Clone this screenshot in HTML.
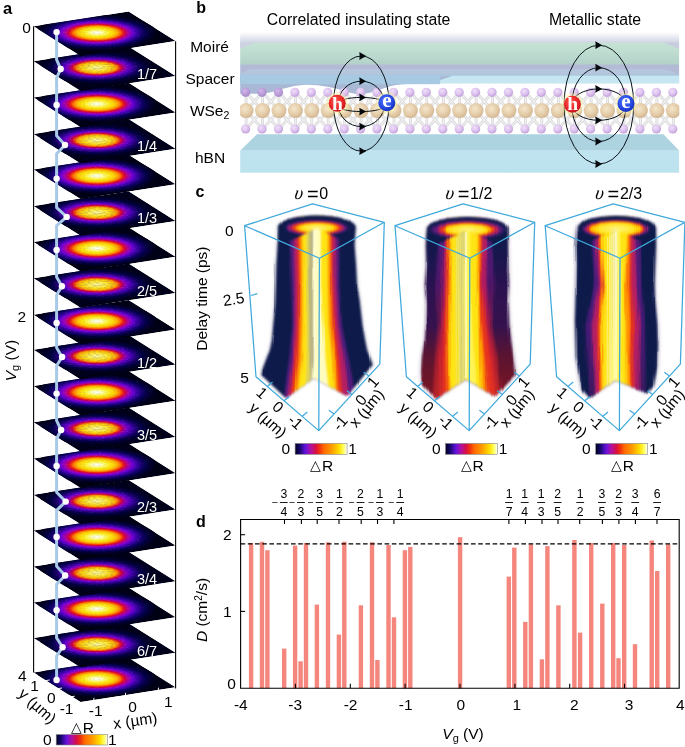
<!DOCTYPE html>
<html><head><meta charset="utf-8"><title>figure</title>
<style>html,body{margin:0;padding:0;background:#fff}svg{display:block}</style></head>
<body>
<svg width="685" height="747" viewBox="0 0 685 747">
<defs>
<linearGradient id="cb" x1="0" x2="1" y1="0" y2="0"><stop offset="0.000" stop-color="#03031e"/><stop offset="0.080" stop-color="#100664"/><stop offset="0.200" stop-color="#6412dc"/><stop offset="0.300" stop-color="#b010a0"/><stop offset="0.400" stop-color="#d81040"/><stop offset="0.470" stop-color="#f03010"/><stop offset="0.550" stop-color="#ff6800"/><stop offset="0.700" stop-color="#ff9a00"/><stop offset="0.850" stop-color="#ffe000"/><stop offset="0.930" stop-color="#ffff60"/><stop offset="1.000" stop-color="#ffffff"/></linearGradient>
<radialGradient id="bg0" cx="0.5" cy="0.5" r="0.5"><stop offset="0.00" stop-color="#ffffff"/><stop offset="0.09" stop-color="#ffffb0"/><stop offset="0.19" stop-color="#fff430"/><stop offset="0.29" stop-color="#ffd800"/><stop offset="0.35" stop-color="#ffa800"/><stop offset="0.40" stop-color="#ff6a00"/><stop offset="0.43" stop-color="#f03010"/><stop offset="0.47" stop-color="#d81040"/><stop offset="0.52" stop-color="#b010a0"/><stop offset="0.59" stop-color="#7a10d8"/><stop offset="0.66" stop-color="#4209b0"/><stop offset="0.76" stop-color="#18066a"/><stop offset="0.87" stop-color="#090436"/><stop offset="1.00" stop-color="#030216"/></radialGradient>
<radialGradient id="bg1" cx="0.5" cy="0.5" r="0.5"><stop offset="0.00" stop-color="#fffbb0"/><stop offset="0.10" stop-color="#fff468"/><stop offset="0.20" stop-color="#ffe630"/><stop offset="0.29" stop-color="#ffc800"/><stop offset="0.35" stop-color="#ff9400"/><stop offset="0.39" stop-color="#f44a10"/><stop offset="0.43" stop-color="#d81040"/><stop offset="0.48" stop-color="#a810a0"/><stop offset="0.55" stop-color="#7010d4"/><stop offset="0.63" stop-color="#3c0aa4"/><stop offset="0.74" stop-color="#16065c"/><stop offset="0.86" stop-color="#080430"/><stop offset="1.00" stop-color="#030216"/></radialGradient>
<filter id="nz1" x="0" y="0" width="100%" height="100%"><feTurbulence type="fractalNoise" baseFrequency="0.35 0.95" numOctaves="1" seed="3" result="t"/><feColorMatrix in="t" type="matrix" values="0 0 0 0 0  0 0 0 0 0  0 0 0 0 0.05  0.9 0 0 0 -0.33" result="a"/><feComposite in="a" in2="SourceGraphic" operator="in" result="m"/><feMerge><feMergeNode in="SourceGraphic"/><feMergeNode in="m"/></feMerge></filter>
<filter id="nz0" x="0" y="0" width="100%" height="100%"><feTurbulence type="fractalNoise" baseFrequency="0.5 0.95" numOctaves="1" seed="5" result="t"/><feColorMatrix in="t" type="matrix" values="0 0 0 0 0  0 0 0 0 0  0 0 0 0 0.05  0.5 0 0 0 -0.2" result="a"/><feComposite in="a" in2="SourceGraphic" operator="in" result="m"/><feMerge><feMergeNode in="SourceGraphic"/><feMergeNode in="m"/></feMerge></filter>
<clipPath id="pc"><polygon points="0,0 95.00,-14.80 142.00,14.80 47.00,29.60"/></clipPath>
<linearGradient id="b_top" x1="0" x2="0" y1="0" y2="1"><stop offset="0" stop-color="#ffffff"/><stop offset="1" stop-color="#cfd2e4"/></linearGradient>
<linearGradient id="b_green" x1="0" x2="0" y1="0" y2="1"><stop offset="0" stop-color="#c6e3d5"/><stop offset="0.35" stop-color="#c0dfd1"/><stop offset="1" stop-color="#b2d0c8"/></linearGradient>
<linearGradient id="b_hbn" x1="0" x2="0" y1="0" y2="1"><stop offset="0" stop-color="#bfe4f0"/><stop offset="1" stop-color="#bce2ee"/></linearGradient>
<radialGradient id="gW" cx="0.42" cy="0.38" r="0.65"><stop offset="0" stop-color="#f4e6cc"/><stop offset="0.6" stop-color="#e4cca8"/><stop offset="1" stop-color="#d0b490"/></radialGradient>
<radialGradient id="gSe" cx="0.4" cy="0.35" r="0.65"><stop offset="0" stop-color="#f0e0fa"/><stop offset="0.6" stop-color="#dcc0ee"/><stop offset="1" stop-color="#c0a0d8"/></radialGradient>
<radialGradient id="gSe2" cx="0.4" cy="0.35" r="0.65"><stop offset="0" stop-color="#d2b8ea"/><stop offset="0.6" stop-color="#b99cd8"/><stop offset="1" stop-color="#a78cc8"/></radialGradient>
<radialGradient id="gH" cx="0.42" cy="0.38" r="0.62"><stop offset="0" stop-color="#ff5a50"/><stop offset="0.6" stop-color="#ec2a2a"/><stop offset="1" stop-color="#c81420"/></radialGradient>
<radialGradient id="gE" cx="0.42" cy="0.38" r="0.62"><stop offset="0" stop-color="#5a7cff"/><stop offset="0.6" stop-color="#2a4ee8"/><stop offset="1" stop-color="#1630c0"/></radialGradient>
<radialGradient id="gGlow" cx="0.5" cy="0.5" r="0.5"><stop offset="0" stop-color="#fff6b0" stop-opacity="0.9"/><stop offset="0.7" stop-color="#fff6b0" stop-opacity="0.6"/><stop offset="1" stop-color="#fff6b0" stop-opacity="0"/></radialGradient>
<filter id="bl1" x="-5%" y="-20%" width="110%" height="140%"><feGaussianBlur stdDeviation="0.7"/></filter>
<clipPath id="b_clip"><rect x="240.1" y="30" width="439.2" height="142.7"/></clipPath>
<filter id="c_bl0" x="-10%" y="-5%" width="120%" height="110%" color-interpolation-filters="sRGB"><feGaussianBlur stdDeviation="1.25 1.0" result="b"/><feTurbulence type="fractalNoise" baseFrequency="0.33 0.012" numOctaves="2" seed="7" result="n0"/><feColorMatrix in="n0" type="matrix" values="1 0 0 0 0  0 0.3 0 0 0.35  0 0 1 0 0  0 0 0 0 1" result="n"/><feDisplacementMap in="b" in2="n" scale="2.6" xChannelSelector="R" yChannelSelector="G" result="d"/><feGaussianBlur in="d" stdDeviation="0.45"/></filter>
<filter id="c_bl1" x="-10%" y="-5%" width="120%" height="110%" color-interpolation-filters="sRGB"><feGaussianBlur stdDeviation="1.25 1.0" result="b"/><feTurbulence type="fractalNoise" baseFrequency="0.33 0.012" numOctaves="2" seed="11" result="n0"/><feColorMatrix in="n0" type="matrix" values="1 0 0 0 0  0 0.3 0 0 0.35  0 0 1 0 0  0 0 0 0 1" result="n"/><feDisplacementMap in="b" in2="n" scale="4.6" xChannelSelector="R" yChannelSelector="G" result="d"/><feGaussianBlur in="d" stdDeviation="0.45"/></filter>
<filter id="c_bl2x" x="-10%" y="-5%" width="120%" height="110%" color-interpolation-filters="sRGB"><feGaussianBlur stdDeviation="1.25 1.0" result="b"/><feTurbulence type="fractalNoise" baseFrequency="0.33 0.012" numOctaves="2" seed="23" result="n0"/><feColorMatrix in="n0" type="matrix" values="1 0 0 0 0  0 0.3 0 0 0.35  0 0 1 0 0  0 0 0 0 1" result="n"/><feDisplacementMap in="b" in2="n" scale="4.2" xChannelSelector="R" yChannelSelector="G" result="d"/><feGaussianBlur in="d" stdDeviation="0.45"/></filter>
<filter id="c_halo" x="-15%" y="-10%" width="130%" height="120%"><feGaussianBlur stdDeviation="2.2 1.6"/></filter>
<filter id="c_bl2" x="-10%" y="-20%" width="120%" height="140%"><feGaussianBlur stdDeviation="1.0"/></filter>
<linearGradient id="c_gy0" gradientUnits="userSpaceOnUse" x1="306" x2="314" y1="0" y2="0"><stop offset="0" stop-color="#f2e040"/><stop offset="0.35" stop-color="#d4cb62"/><stop offset="0.62" stop-color="#b6af84"/><stop offset="1" stop-color="#a49e8e"/></linearGradient>
<linearGradient id="c_gy1" gradientUnits="userSpaceOnUse" x1="456" x2="465.5" y1="0" y2="0"><stop offset="0" stop-color="#f2e240"/><stop offset="0.6" stop-color="#ddd366"/><stop offset="1" stop-color="#c2ba84"/></linearGradient>
<linearGradient id="c_gy2" gradientUnits="userSpaceOnUse" x1="608" x2="615" y1="0" y2="0"><stop offset="0" stop-color="#fbe834"/><stop offset="0.6" stop-color="#f6ec70"/><stop offset="1" stop-color="#ece59c"/></linearGradient>
<linearGradient id="c_n2" gradientUnits="userSpaceOnUse" x1="0" x2="0" y1="230" y2="395"><stop offset="0" stop-color="#0e1a4a"/><stop offset="0.18" stop-color="#1a164e"/><stop offset="0.33" stop-color="#2a1250"/><stop offset="0.58" stop-color="#36124e"/><stop offset="0.77" stop-color="#5c1430"/><stop offset="1" stop-color="#7a1424"/></linearGradient>
<linearGradient id="c_p2" gradientUnits="userSpaceOnUse" x1="0" x2="0" y1="230" y2="395"><stop offset="0" stop-color="#521c7c"/><stop offset="0.33" stop-color="#4e1668"/><stop offset="0.58" stop-color="#701848"/><stop offset="0.77" stop-color="#a01c30"/><stop offset="1" stop-color="#b42428"/></linearGradient>
<linearGradient id="c_m2" gradientUnits="userSpaceOnUse" x1="0" x2="0" y1="230" y2="395"><stop offset="0" stop-color="#b41e64"/><stop offset="0.33" stop-color="#b01a62"/><stop offset="0.58" stop-color="#b01a48"/><stop offset="0.77" stop-color="#c82030"/><stop offset="1" stop-color="#d02c28"/></linearGradient>
<linearGradient id="c_p3" gradientUnits="userSpaceOnUse" x1="0" x2="0" y1="230" y2="395"><stop offset="0" stop-color="#521c7c"/><stop offset="0.6" stop-color="#4a1a78"/><stop offset="1" stop-color="#3c1a60"/></linearGradient>
<radialGradient id="c_cap" cx="0.5" cy="0.5" r="0.5"><stop offset="0.000" stop-color="#fff48a"/><stop offset="0.247" stop-color="#ffe626"/><stop offset="0.320" stop-color="#ffc800"/><stop offset="0.364" stop-color="#ff9200"/><stop offset="0.415" stop-color="#e6321e"/><stop offset="0.469" stop-color="#b41e64"/><stop offset="0.524" stop-color="#521c7c"/><stop offset="0.582" stop-color="#0e1a4a"/><stop offset="1.000" stop-color="#0e1a4a"/></radialGradient>
<radialGradient id="c_cap1" cx="0.5" cy="0.5" r="0.5"><stop offset="0.000" stop-color="#fff48a"/><stop offset="0.291" stop-color="#ffe626"/><stop offset="0.364" stop-color="#ffc800"/><stop offset="0.407" stop-color="#ff9200"/><stop offset="0.451" stop-color="#e6321e"/><stop offset="0.509" stop-color="#b41e64"/><stop offset="0.582" stop-color="#521c7c"/><stop offset="0.676" stop-color="#0e1a4a"/><stop offset="1.000" stop-color="#0e1a4a"/></radialGradient>
<radialGradient id="c_cap2" cx="0.5" cy="0.5" r="0.5"><stop offset="0.000" stop-color="#fff48a"/><stop offset="0.327" stop-color="#ffe626"/><stop offset="0.422" stop-color="#ffc800"/><stop offset="0.465" stop-color="#ff9200"/><stop offset="0.502" stop-color="#e6321e"/><stop offset="0.538" stop-color="#b41e64"/><stop offset="0.575" stop-color="#521c7c"/><stop offset="0.625" stop-color="#0e1a4a"/><stop offset="1.000" stop-color="#0e1a4a"/></radialGradient>
<clipPath id="c_body0"><path d="M278.0,227.0 L277.6,245.0 L276.4,265.0 L275.9,285.0 L275.2,305.0 L273.3,325.0 L272.0,340.0 L270.0,350.0 L266.4,359.0 L263.0,368.0 L261.5,375.0 L286.0,398.0 L313.8,378.0 L347.0,396.0 L372.6,364.7 L370.5,359.0 L367.0,350.0 L365.0,340.0 L362.4,325.0 L359.5,300.0 L357.0,285.0 L356.0,265.0 L354.5,245.0 L355.5,227.0 A38.8,12.0 0 0 0 278.0,227.0 Z"/></clipPath>
<clipPath id="c_capc0"><polygon points="196.3,150 446.3,150 446.3,288.0 316.3,228.2 196.3,287.0"/></clipPath>
<clipPath id="c_body1"><path d="M427.0,229.0 L425.9,245.0 L426.5,265.0 L425.0,285.0 L426.5,305.0 L426.0,325.0 L425.0,340.0 L422.0,357.0 L421.0,372.0 L422.0,384.0 L436.4,399.0 L465.7,379.3 L495.0,396.4 L516.0,374.5 L514.0,360.0 L511.0,340.0 L509.3,325.0 L508.0,300.0 L508.9,285.0 L508.0,245.0 L508.0,229.0 A40.5,12.0 0 0 0 427.0,229.0 Z"/></clipPath>
<clipPath id="c_capc1"><polygon points="346.5,150 596.5,150 596.5,289.8 466.5,230.0 346.5,288.8"/></clipPath>
<clipPath id="c_body2"><path d="M577.0,228.0 L575.9,245.0 L576.5,265.0 L576.0,285.0 L575.5,305.0 L575.0,320.0 L575.6,340.0 L576.0,357.0 L579.0,375.0 L581.6,389.7 L589.2,398.0 L615.7,380.2 L647.0,393.5 L653.6,386.0 L657.4,367.0 L658.0,345.0 L657.4,325.0 L655.0,300.0 L654.5,285.0 L655.2,265.0 L656.0,245.0 L655.5,228.0 A39.2,12.0 0 0 0 577.0,228.0 Z"/></clipPath>
<clipPath id="c_capc2"><polygon points="495.0,150 745.0,150 745.0,289.0 615.0,229.2 495.0,288.0"/></clipPath>
</defs>
<rect width="685" height="747" fill="#fff"/>
<g clip-path="url(#b_clip)">
<rect x="240.1" y="32" width="439.2" height="11" fill="url(#b_top)"/>
<rect x="240.1" y="42.4" width="439.2" height="22.6" fill="url(#b_green)"/>
<polygon points="240.1,42.4 255,42.4 240.1,49" fill="#cfd2e4"/>
<polygon points="663.5,42.4 679.3,42.4 679.3,64.7 679.3,64.7 679.3,49" fill="#c9cce0"/>
<rect x="240.1" y="64.6" width="439.2" height="10.6" fill="#b2bad5"/>
<polygon points="250,69 665.3,69 679.3,74.6 240.1,74.6" fill="#b5c5db"/>
<rect x="240.1" y="74.6" width="439.2" height="9.6" fill="#a7c9e1"/>
<polygon points="452,75.8 679.3,75.8 679.3,83.6 425,83.6 440,80" fill="#c6e6f1"/>
<rect x="240.1" y="83.4" width="439.2" height="51" fill="#ffffff"/>
<polygon points="257,134.3 663.5,134.3 679.3,150.8 240.1,150.8" fill="#add3e1"/>
<rect x="240.1" y="150.6" width="439.2" height="23" fill="url(#b_hbn)"/>
<polygon points="664,134.3 679.3,150 679.3,172.7 679.3,172.7" fill="#bfe4f0" opacity="0"/>
<path d="M240.1,83 L240.1,93.8 C258,94 266,93.6 274,91.5 C285,88 295,85 307,84.7 C320,84.6 335,88 345,91 C352,93.5 356,94.3 361,94 C375,93 385,86 400,84.4 C415,83.4 430,84 440,80 L452,76 L240.1,76 Z" fill="#a9b9d5"/>
<rect x="240.1" y="74.6" width="200" height="9.6" fill="#a7c9e1"/>
<g stroke="#d4d4d6" stroke-width="2.8" stroke-linecap="round">
<line x1="246.1" y1="92.3" x2="246.1" y2="110.6"/>
<line x1="246.1" y1="92.3" x2="262.5" y2="110.6"/>
<line x1="246.1" y1="129.0" x2="246.1" y2="110.6"/>
<line x1="246.1" y1="129.0" x2="262.5" y2="110.6"/>
<line x1="262.5" y1="92.3" x2="262.5" y2="110.6"/>
<line x1="262.5" y1="92.3" x2="246.1" y2="110.6"/>
<line x1="262.5" y1="92.3" x2="279.0" y2="110.6"/>
<line x1="262.5" y1="129.0" x2="262.5" y2="110.6"/>
<line x1="262.5" y1="129.0" x2="246.1" y2="110.6"/>
<line x1="262.5" y1="129.0" x2="279.0" y2="110.6"/>
<line x1="279.0" y1="92.3" x2="279.0" y2="110.6"/>
<line x1="279.0" y1="92.3" x2="262.5" y2="110.6"/>
<line x1="279.0" y1="92.3" x2="295.4" y2="110.6"/>
<line x1="279.0" y1="129.0" x2="279.0" y2="110.6"/>
<line x1="279.0" y1="129.0" x2="262.5" y2="110.6"/>
<line x1="279.0" y1="129.0" x2="295.4" y2="110.6"/>
<line x1="295.4" y1="92.3" x2="295.4" y2="110.6"/>
<line x1="295.4" y1="92.3" x2="279.0" y2="110.6"/>
<line x1="295.4" y1="92.3" x2="311.8" y2="110.6"/>
<line x1="295.4" y1="129.0" x2="295.4" y2="110.6"/>
<line x1="295.4" y1="129.0" x2="279.0" y2="110.6"/>
<line x1="295.4" y1="129.0" x2="311.8" y2="110.6"/>
<line x1="311.8" y1="92.3" x2="311.8" y2="110.6"/>
<line x1="311.8" y1="92.3" x2="295.4" y2="110.6"/>
<line x1="311.8" y1="92.3" x2="328.2" y2="110.6"/>
<line x1="311.8" y1="129.0" x2="311.8" y2="110.6"/>
<line x1="311.8" y1="129.0" x2="295.4" y2="110.6"/>
<line x1="311.8" y1="129.0" x2="328.2" y2="110.6"/>
<line x1="328.2" y1="92.3" x2="328.2" y2="110.6"/>
<line x1="328.2" y1="92.3" x2="311.8" y2="110.6"/>
<line x1="328.2" y1="92.3" x2="344.7" y2="110.6"/>
<line x1="328.2" y1="129.0" x2="328.2" y2="110.6"/>
<line x1="328.2" y1="129.0" x2="311.8" y2="110.6"/>
<line x1="328.2" y1="129.0" x2="344.7" y2="110.6"/>
<line x1="344.7" y1="92.3" x2="344.7" y2="110.6"/>
<line x1="344.7" y1="92.3" x2="328.2" y2="110.6"/>
<line x1="344.7" y1="92.3" x2="361.1" y2="110.6"/>
<line x1="344.7" y1="129.0" x2="344.7" y2="110.6"/>
<line x1="344.7" y1="129.0" x2="328.2" y2="110.6"/>
<line x1="344.7" y1="129.0" x2="361.1" y2="110.6"/>
<line x1="361.1" y1="92.3" x2="361.1" y2="110.6"/>
<line x1="361.1" y1="92.3" x2="344.7" y2="110.6"/>
<line x1="361.1" y1="92.3" x2="377.5" y2="110.6"/>
<line x1="361.1" y1="129.0" x2="361.1" y2="110.6"/>
<line x1="361.1" y1="129.0" x2="344.7" y2="110.6"/>
<line x1="361.1" y1="129.0" x2="377.5" y2="110.6"/>
<line x1="377.5" y1="92.3" x2="377.5" y2="110.6"/>
<line x1="377.5" y1="92.3" x2="361.1" y2="110.6"/>
<line x1="377.5" y1="92.3" x2="394.0" y2="110.6"/>
<line x1="377.5" y1="129.0" x2="377.5" y2="110.6"/>
<line x1="377.5" y1="129.0" x2="361.1" y2="110.6"/>
<line x1="377.5" y1="129.0" x2="394.0" y2="110.6"/>
<line x1="394.0" y1="92.3" x2="394.0" y2="110.6"/>
<line x1="394.0" y1="92.3" x2="377.5" y2="110.6"/>
<line x1="394.0" y1="92.3" x2="410.4" y2="110.6"/>
<line x1="394.0" y1="129.0" x2="394.0" y2="110.6"/>
<line x1="394.0" y1="129.0" x2="377.5" y2="110.6"/>
<line x1="394.0" y1="129.0" x2="410.4" y2="110.6"/>
<line x1="410.4" y1="92.3" x2="410.4" y2="110.6"/>
<line x1="410.4" y1="92.3" x2="394.0" y2="110.6"/>
<line x1="410.4" y1="92.3" x2="426.8" y2="110.6"/>
<line x1="410.4" y1="129.0" x2="410.4" y2="110.6"/>
<line x1="410.4" y1="129.0" x2="394.0" y2="110.6"/>
<line x1="410.4" y1="129.0" x2="426.8" y2="110.6"/>
<line x1="426.8" y1="92.3" x2="426.8" y2="110.6"/>
<line x1="426.8" y1="92.3" x2="410.4" y2="110.6"/>
<line x1="426.8" y1="92.3" x2="443.3" y2="110.6"/>
<line x1="426.8" y1="129.0" x2="426.8" y2="110.6"/>
<line x1="426.8" y1="129.0" x2="410.4" y2="110.6"/>
<line x1="426.8" y1="129.0" x2="443.3" y2="110.6"/>
<line x1="443.3" y1="92.3" x2="443.3" y2="110.6"/>
<line x1="443.3" y1="92.3" x2="426.8" y2="110.6"/>
<line x1="443.3" y1="92.3" x2="459.7" y2="110.6"/>
<line x1="443.3" y1="129.0" x2="443.3" y2="110.6"/>
<line x1="443.3" y1="129.0" x2="426.8" y2="110.6"/>
<line x1="443.3" y1="129.0" x2="459.7" y2="110.6"/>
<line x1="459.7" y1="92.3" x2="459.7" y2="110.6"/>
<line x1="459.7" y1="92.3" x2="443.3" y2="110.6"/>
<line x1="459.7" y1="92.3" x2="476.1" y2="110.6"/>
<line x1="459.7" y1="129.0" x2="459.7" y2="110.6"/>
<line x1="459.7" y1="129.0" x2="443.3" y2="110.6"/>
<line x1="459.7" y1="129.0" x2="476.1" y2="110.6"/>
<line x1="476.1" y1="92.3" x2="476.1" y2="110.6"/>
<line x1="476.1" y1="92.3" x2="459.7" y2="110.6"/>
<line x1="476.1" y1="92.3" x2="492.5" y2="110.6"/>
<line x1="476.1" y1="129.0" x2="476.1" y2="110.6"/>
<line x1="476.1" y1="129.0" x2="459.7" y2="110.6"/>
<line x1="476.1" y1="129.0" x2="492.5" y2="110.6"/>
<line x1="492.5" y1="92.3" x2="492.5" y2="110.6"/>
<line x1="492.5" y1="92.3" x2="476.1" y2="110.6"/>
<line x1="492.5" y1="92.3" x2="509.0" y2="110.6"/>
<line x1="492.5" y1="129.0" x2="492.5" y2="110.6"/>
<line x1="492.5" y1="129.0" x2="476.1" y2="110.6"/>
<line x1="492.5" y1="129.0" x2="509.0" y2="110.6"/>
<line x1="509.0" y1="92.3" x2="509.0" y2="110.6"/>
<line x1="509.0" y1="92.3" x2="492.5" y2="110.6"/>
<line x1="509.0" y1="92.3" x2="525.4" y2="110.6"/>
<line x1="509.0" y1="129.0" x2="509.0" y2="110.6"/>
<line x1="509.0" y1="129.0" x2="492.5" y2="110.6"/>
<line x1="509.0" y1="129.0" x2="525.4" y2="110.6"/>
<line x1="525.4" y1="92.3" x2="525.4" y2="110.6"/>
<line x1="525.4" y1="92.3" x2="509.0" y2="110.6"/>
<line x1="525.4" y1="92.3" x2="541.8" y2="110.6"/>
<line x1="525.4" y1="129.0" x2="525.4" y2="110.6"/>
<line x1="525.4" y1="129.0" x2="509.0" y2="110.6"/>
<line x1="525.4" y1="129.0" x2="541.8" y2="110.6"/>
<line x1="541.8" y1="92.3" x2="541.8" y2="110.6"/>
<line x1="541.8" y1="92.3" x2="525.4" y2="110.6"/>
<line x1="541.8" y1="92.3" x2="558.3" y2="110.6"/>
<line x1="541.8" y1="129.0" x2="541.8" y2="110.6"/>
<line x1="541.8" y1="129.0" x2="525.4" y2="110.6"/>
<line x1="541.8" y1="129.0" x2="558.3" y2="110.6"/>
<line x1="558.3" y1="92.3" x2="558.3" y2="110.6"/>
<line x1="558.3" y1="92.3" x2="541.8" y2="110.6"/>
<line x1="558.3" y1="92.3" x2="574.7" y2="110.6"/>
<line x1="558.3" y1="129.0" x2="558.3" y2="110.6"/>
<line x1="558.3" y1="129.0" x2="541.8" y2="110.6"/>
<line x1="558.3" y1="129.0" x2="574.7" y2="110.6"/>
<line x1="574.7" y1="92.3" x2="574.7" y2="110.6"/>
<line x1="574.7" y1="92.3" x2="558.3" y2="110.6"/>
<line x1="574.7" y1="92.3" x2="591.1" y2="110.6"/>
<line x1="574.7" y1="129.0" x2="574.7" y2="110.6"/>
<line x1="574.7" y1="129.0" x2="558.3" y2="110.6"/>
<line x1="574.7" y1="129.0" x2="591.1" y2="110.6"/>
<line x1="591.1" y1="92.3" x2="591.1" y2="110.6"/>
<line x1="591.1" y1="92.3" x2="574.7" y2="110.6"/>
<line x1="591.1" y1="92.3" x2="607.6" y2="110.6"/>
<line x1="591.1" y1="129.0" x2="591.1" y2="110.6"/>
<line x1="591.1" y1="129.0" x2="574.7" y2="110.6"/>
<line x1="591.1" y1="129.0" x2="607.6" y2="110.6"/>
<line x1="607.6" y1="92.3" x2="607.6" y2="110.6"/>
<line x1="607.6" y1="92.3" x2="591.1" y2="110.6"/>
<line x1="607.6" y1="92.3" x2="624.0" y2="110.6"/>
<line x1="607.6" y1="129.0" x2="607.6" y2="110.6"/>
<line x1="607.6" y1="129.0" x2="591.1" y2="110.6"/>
<line x1="607.6" y1="129.0" x2="624.0" y2="110.6"/>
<line x1="624.0" y1="92.3" x2="624.0" y2="110.6"/>
<line x1="624.0" y1="92.3" x2="607.6" y2="110.6"/>
<line x1="624.0" y1="92.3" x2="640.4" y2="110.6"/>
<line x1="624.0" y1="129.0" x2="624.0" y2="110.6"/>
<line x1="624.0" y1="129.0" x2="607.6" y2="110.6"/>
<line x1="624.0" y1="129.0" x2="640.4" y2="110.6"/>
<line x1="640.4" y1="92.3" x2="640.4" y2="110.6"/>
<line x1="640.4" y1="92.3" x2="624.0" y2="110.6"/>
<line x1="640.4" y1="92.3" x2="656.9" y2="110.6"/>
<line x1="640.4" y1="129.0" x2="640.4" y2="110.6"/>
<line x1="640.4" y1="129.0" x2="624.0" y2="110.6"/>
<line x1="640.4" y1="129.0" x2="656.9" y2="110.6"/>
<line x1="656.9" y1="92.3" x2="656.9" y2="110.6"/>
<line x1="656.9" y1="92.3" x2="640.4" y2="110.6"/>
<line x1="656.9" y1="92.3" x2="673.3" y2="110.6"/>
<line x1="656.9" y1="129.0" x2="656.9" y2="110.6"/>
<line x1="656.9" y1="129.0" x2="640.4" y2="110.6"/>
<line x1="656.9" y1="129.0" x2="673.3" y2="110.6"/>
<line x1="673.3" y1="92.3" x2="673.3" y2="110.6"/>
<line x1="673.3" y1="92.3" x2="656.9" y2="110.6"/>
<line x1="673.3" y1="129.0" x2="673.3" y2="110.6"/>
<line x1="673.3" y1="129.0" x2="656.9" y2="110.6"/>
</g><g stroke="#f0f0f1" stroke-width="1.4" stroke-linecap="round">
<line x1="246.1" y1="92.3" x2="246.1" y2="110.6"/>
<line x1="246.1" y1="92.3" x2="262.5" y2="110.6"/>
<line x1="246.1" y1="129.0" x2="246.1" y2="110.6"/>
<line x1="246.1" y1="129.0" x2="262.5" y2="110.6"/>
<line x1="262.5" y1="92.3" x2="262.5" y2="110.6"/>
<line x1="262.5" y1="92.3" x2="246.1" y2="110.6"/>
<line x1="262.5" y1="92.3" x2="279.0" y2="110.6"/>
<line x1="262.5" y1="129.0" x2="262.5" y2="110.6"/>
<line x1="262.5" y1="129.0" x2="246.1" y2="110.6"/>
<line x1="262.5" y1="129.0" x2="279.0" y2="110.6"/>
<line x1="279.0" y1="92.3" x2="279.0" y2="110.6"/>
<line x1="279.0" y1="92.3" x2="262.5" y2="110.6"/>
<line x1="279.0" y1="92.3" x2="295.4" y2="110.6"/>
<line x1="279.0" y1="129.0" x2="279.0" y2="110.6"/>
<line x1="279.0" y1="129.0" x2="262.5" y2="110.6"/>
<line x1="279.0" y1="129.0" x2="295.4" y2="110.6"/>
<line x1="295.4" y1="92.3" x2="295.4" y2="110.6"/>
<line x1="295.4" y1="92.3" x2="279.0" y2="110.6"/>
<line x1="295.4" y1="92.3" x2="311.8" y2="110.6"/>
<line x1="295.4" y1="129.0" x2="295.4" y2="110.6"/>
<line x1="295.4" y1="129.0" x2="279.0" y2="110.6"/>
<line x1="295.4" y1="129.0" x2="311.8" y2="110.6"/>
<line x1="311.8" y1="92.3" x2="311.8" y2="110.6"/>
<line x1="311.8" y1="92.3" x2="295.4" y2="110.6"/>
<line x1="311.8" y1="92.3" x2="328.2" y2="110.6"/>
<line x1="311.8" y1="129.0" x2="311.8" y2="110.6"/>
<line x1="311.8" y1="129.0" x2="295.4" y2="110.6"/>
<line x1="311.8" y1="129.0" x2="328.2" y2="110.6"/>
<line x1="328.2" y1="92.3" x2="328.2" y2="110.6"/>
<line x1="328.2" y1="92.3" x2="311.8" y2="110.6"/>
<line x1="328.2" y1="92.3" x2="344.7" y2="110.6"/>
<line x1="328.2" y1="129.0" x2="328.2" y2="110.6"/>
<line x1="328.2" y1="129.0" x2="311.8" y2="110.6"/>
<line x1="328.2" y1="129.0" x2="344.7" y2="110.6"/>
<line x1="344.7" y1="92.3" x2="344.7" y2="110.6"/>
<line x1="344.7" y1="92.3" x2="328.2" y2="110.6"/>
<line x1="344.7" y1="92.3" x2="361.1" y2="110.6"/>
<line x1="344.7" y1="129.0" x2="344.7" y2="110.6"/>
<line x1="344.7" y1="129.0" x2="328.2" y2="110.6"/>
<line x1="344.7" y1="129.0" x2="361.1" y2="110.6"/>
<line x1="361.1" y1="92.3" x2="361.1" y2="110.6"/>
<line x1="361.1" y1="92.3" x2="344.7" y2="110.6"/>
<line x1="361.1" y1="92.3" x2="377.5" y2="110.6"/>
<line x1="361.1" y1="129.0" x2="361.1" y2="110.6"/>
<line x1="361.1" y1="129.0" x2="344.7" y2="110.6"/>
<line x1="361.1" y1="129.0" x2="377.5" y2="110.6"/>
<line x1="377.5" y1="92.3" x2="377.5" y2="110.6"/>
<line x1="377.5" y1="92.3" x2="361.1" y2="110.6"/>
<line x1="377.5" y1="92.3" x2="394.0" y2="110.6"/>
<line x1="377.5" y1="129.0" x2="377.5" y2="110.6"/>
<line x1="377.5" y1="129.0" x2="361.1" y2="110.6"/>
<line x1="377.5" y1="129.0" x2="394.0" y2="110.6"/>
<line x1="394.0" y1="92.3" x2="394.0" y2="110.6"/>
<line x1="394.0" y1="92.3" x2="377.5" y2="110.6"/>
<line x1="394.0" y1="92.3" x2="410.4" y2="110.6"/>
<line x1="394.0" y1="129.0" x2="394.0" y2="110.6"/>
<line x1="394.0" y1="129.0" x2="377.5" y2="110.6"/>
<line x1="394.0" y1="129.0" x2="410.4" y2="110.6"/>
<line x1="410.4" y1="92.3" x2="410.4" y2="110.6"/>
<line x1="410.4" y1="92.3" x2="394.0" y2="110.6"/>
<line x1="410.4" y1="92.3" x2="426.8" y2="110.6"/>
<line x1="410.4" y1="129.0" x2="410.4" y2="110.6"/>
<line x1="410.4" y1="129.0" x2="394.0" y2="110.6"/>
<line x1="410.4" y1="129.0" x2="426.8" y2="110.6"/>
<line x1="426.8" y1="92.3" x2="426.8" y2="110.6"/>
<line x1="426.8" y1="92.3" x2="410.4" y2="110.6"/>
<line x1="426.8" y1="92.3" x2="443.3" y2="110.6"/>
<line x1="426.8" y1="129.0" x2="426.8" y2="110.6"/>
<line x1="426.8" y1="129.0" x2="410.4" y2="110.6"/>
<line x1="426.8" y1="129.0" x2="443.3" y2="110.6"/>
<line x1="443.3" y1="92.3" x2="443.3" y2="110.6"/>
<line x1="443.3" y1="92.3" x2="426.8" y2="110.6"/>
<line x1="443.3" y1="92.3" x2="459.7" y2="110.6"/>
<line x1="443.3" y1="129.0" x2="443.3" y2="110.6"/>
<line x1="443.3" y1="129.0" x2="426.8" y2="110.6"/>
<line x1="443.3" y1="129.0" x2="459.7" y2="110.6"/>
<line x1="459.7" y1="92.3" x2="459.7" y2="110.6"/>
<line x1="459.7" y1="92.3" x2="443.3" y2="110.6"/>
<line x1="459.7" y1="92.3" x2="476.1" y2="110.6"/>
<line x1="459.7" y1="129.0" x2="459.7" y2="110.6"/>
<line x1="459.7" y1="129.0" x2="443.3" y2="110.6"/>
<line x1="459.7" y1="129.0" x2="476.1" y2="110.6"/>
<line x1="476.1" y1="92.3" x2="476.1" y2="110.6"/>
<line x1="476.1" y1="92.3" x2="459.7" y2="110.6"/>
<line x1="476.1" y1="92.3" x2="492.5" y2="110.6"/>
<line x1="476.1" y1="129.0" x2="476.1" y2="110.6"/>
<line x1="476.1" y1="129.0" x2="459.7" y2="110.6"/>
<line x1="476.1" y1="129.0" x2="492.5" y2="110.6"/>
<line x1="492.5" y1="92.3" x2="492.5" y2="110.6"/>
<line x1="492.5" y1="92.3" x2="476.1" y2="110.6"/>
<line x1="492.5" y1="92.3" x2="509.0" y2="110.6"/>
<line x1="492.5" y1="129.0" x2="492.5" y2="110.6"/>
<line x1="492.5" y1="129.0" x2="476.1" y2="110.6"/>
<line x1="492.5" y1="129.0" x2="509.0" y2="110.6"/>
<line x1="509.0" y1="92.3" x2="509.0" y2="110.6"/>
<line x1="509.0" y1="92.3" x2="492.5" y2="110.6"/>
<line x1="509.0" y1="92.3" x2="525.4" y2="110.6"/>
<line x1="509.0" y1="129.0" x2="509.0" y2="110.6"/>
<line x1="509.0" y1="129.0" x2="492.5" y2="110.6"/>
<line x1="509.0" y1="129.0" x2="525.4" y2="110.6"/>
<line x1="525.4" y1="92.3" x2="525.4" y2="110.6"/>
<line x1="525.4" y1="92.3" x2="509.0" y2="110.6"/>
<line x1="525.4" y1="92.3" x2="541.8" y2="110.6"/>
<line x1="525.4" y1="129.0" x2="525.4" y2="110.6"/>
<line x1="525.4" y1="129.0" x2="509.0" y2="110.6"/>
<line x1="525.4" y1="129.0" x2="541.8" y2="110.6"/>
<line x1="541.8" y1="92.3" x2="541.8" y2="110.6"/>
<line x1="541.8" y1="92.3" x2="525.4" y2="110.6"/>
<line x1="541.8" y1="92.3" x2="558.3" y2="110.6"/>
<line x1="541.8" y1="129.0" x2="541.8" y2="110.6"/>
<line x1="541.8" y1="129.0" x2="525.4" y2="110.6"/>
<line x1="541.8" y1="129.0" x2="558.3" y2="110.6"/>
<line x1="558.3" y1="92.3" x2="558.3" y2="110.6"/>
<line x1="558.3" y1="92.3" x2="541.8" y2="110.6"/>
<line x1="558.3" y1="92.3" x2="574.7" y2="110.6"/>
<line x1="558.3" y1="129.0" x2="558.3" y2="110.6"/>
<line x1="558.3" y1="129.0" x2="541.8" y2="110.6"/>
<line x1="558.3" y1="129.0" x2="574.7" y2="110.6"/>
<line x1="574.7" y1="92.3" x2="574.7" y2="110.6"/>
<line x1="574.7" y1="92.3" x2="558.3" y2="110.6"/>
<line x1="574.7" y1="92.3" x2="591.1" y2="110.6"/>
<line x1="574.7" y1="129.0" x2="574.7" y2="110.6"/>
<line x1="574.7" y1="129.0" x2="558.3" y2="110.6"/>
<line x1="574.7" y1="129.0" x2="591.1" y2="110.6"/>
<line x1="591.1" y1="92.3" x2="591.1" y2="110.6"/>
<line x1="591.1" y1="92.3" x2="574.7" y2="110.6"/>
<line x1="591.1" y1="92.3" x2="607.6" y2="110.6"/>
<line x1="591.1" y1="129.0" x2="591.1" y2="110.6"/>
<line x1="591.1" y1="129.0" x2="574.7" y2="110.6"/>
<line x1="591.1" y1="129.0" x2="607.6" y2="110.6"/>
<line x1="607.6" y1="92.3" x2="607.6" y2="110.6"/>
<line x1="607.6" y1="92.3" x2="591.1" y2="110.6"/>
<line x1="607.6" y1="92.3" x2="624.0" y2="110.6"/>
<line x1="607.6" y1="129.0" x2="607.6" y2="110.6"/>
<line x1="607.6" y1="129.0" x2="591.1" y2="110.6"/>
<line x1="607.6" y1="129.0" x2="624.0" y2="110.6"/>
<line x1="624.0" y1="92.3" x2="624.0" y2="110.6"/>
<line x1="624.0" y1="92.3" x2="607.6" y2="110.6"/>
<line x1="624.0" y1="92.3" x2="640.4" y2="110.6"/>
<line x1="624.0" y1="129.0" x2="624.0" y2="110.6"/>
<line x1="624.0" y1="129.0" x2="607.6" y2="110.6"/>
<line x1="624.0" y1="129.0" x2="640.4" y2="110.6"/>
<line x1="640.4" y1="92.3" x2="640.4" y2="110.6"/>
<line x1="640.4" y1="92.3" x2="624.0" y2="110.6"/>
<line x1="640.4" y1="92.3" x2="656.9" y2="110.6"/>
<line x1="640.4" y1="129.0" x2="640.4" y2="110.6"/>
<line x1="640.4" y1="129.0" x2="624.0" y2="110.6"/>
<line x1="640.4" y1="129.0" x2="656.9" y2="110.6"/>
<line x1="656.9" y1="92.3" x2="656.9" y2="110.6"/>
<line x1="656.9" y1="92.3" x2="640.4" y2="110.6"/>
<line x1="656.9" y1="92.3" x2="673.3" y2="110.6"/>
<line x1="656.9" y1="129.0" x2="656.9" y2="110.6"/>
<line x1="656.9" y1="129.0" x2="640.4" y2="110.6"/>
<line x1="656.9" y1="129.0" x2="673.3" y2="110.6"/>
<line x1="673.3" y1="92.3" x2="673.3" y2="110.6"/>
<line x1="673.3" y1="92.3" x2="656.9" y2="110.6"/>
<line x1="673.3" y1="129.0" x2="673.3" y2="110.6"/>
<line x1="673.3" y1="129.0" x2="656.9" y2="110.6"/>
</g>
<circle cx="245.6" cy="92.3" r="4.6" fill="url(#gSe2)"/>
<circle cx="245.6" cy="129.0" r="4.6" fill="url(#gSe)"/>
<circle cx="262.0" cy="92.3" r="4.6" fill="url(#gSe2)"/>
<circle cx="262.0" cy="129.0" r="4.6" fill="url(#gSe)"/>
<circle cx="278.5" cy="92.3" r="4.6" fill="url(#gSe2)"/>
<circle cx="278.5" cy="129.0" r="4.6" fill="url(#gSe)"/>
<circle cx="294.9" cy="92.3" r="4.6" fill="url(#gSe)"/>
<circle cx="294.9" cy="129.0" r="4.6" fill="url(#gSe)"/>
<circle cx="311.3" cy="92.3" r="4.6" fill="url(#gSe)"/>
<circle cx="311.3" cy="129.0" r="4.6" fill="url(#gSe)"/>
<circle cx="327.8" cy="92.3" r="4.6" fill="url(#gSe)"/>
<circle cx="327.8" cy="129.0" r="4.6" fill="url(#gSe)"/>
<circle cx="344.2" cy="92.3" r="4.6" fill="url(#gSe)"/>
<circle cx="344.2" cy="129.0" r="4.6" fill="url(#gSe)"/>
<circle cx="360.6" cy="92.3" r="4.6" fill="url(#gSe)"/>
<circle cx="360.6" cy="129.0" r="4.6" fill="url(#gSe)"/>
<circle cx="377.0" cy="92.3" r="4.6" fill="url(#gSe)"/>
<circle cx="377.0" cy="129.0" r="4.6" fill="url(#gSe)"/>
<circle cx="393.5" cy="92.3" r="4.6" fill="url(#gSe)"/>
<circle cx="393.5" cy="129.0" r="4.6" fill="url(#gSe)"/>
<circle cx="409.9" cy="92.3" r="4.6" fill="url(#gSe)"/>
<circle cx="409.9" cy="129.0" r="4.6" fill="url(#gSe)"/>
<circle cx="426.3" cy="92.3" r="4.6" fill="url(#gSe)"/>
<circle cx="426.3" cy="129.0" r="4.6" fill="url(#gSe)"/>
<circle cx="442.8" cy="92.3" r="4.6" fill="url(#gSe)"/>
<circle cx="442.8" cy="129.0" r="4.6" fill="url(#gSe)"/>
<circle cx="459.2" cy="92.3" r="4.6" fill="url(#gSe)"/>
<circle cx="459.2" cy="129.0" r="4.6" fill="url(#gSe)"/>
<circle cx="475.6" cy="92.3" r="4.6" fill="url(#gSe)"/>
<circle cx="475.6" cy="129.0" r="4.6" fill="url(#gSe)"/>
<circle cx="492.0" cy="92.3" r="4.6" fill="url(#gSe)"/>
<circle cx="492.0" cy="129.0" r="4.6" fill="url(#gSe)"/>
<circle cx="508.5" cy="92.3" r="4.6" fill="url(#gSe)"/>
<circle cx="508.5" cy="129.0" r="4.6" fill="url(#gSe)"/>
<circle cx="524.9" cy="92.3" r="4.6" fill="url(#gSe)"/>
<circle cx="524.9" cy="129.0" r="4.6" fill="url(#gSe)"/>
<circle cx="541.3" cy="92.3" r="4.6" fill="url(#gSe)"/>
<circle cx="541.3" cy="129.0" r="4.6" fill="url(#gSe)"/>
<circle cx="557.8" cy="92.3" r="4.6" fill="url(#gSe)"/>
<circle cx="557.8" cy="129.0" r="4.6" fill="url(#gSe)"/>
<circle cx="574.2" cy="92.3" r="4.6" fill="url(#gSe)"/>
<circle cx="574.2" cy="129.0" r="4.6" fill="url(#gSe)"/>
<circle cx="590.6" cy="92.3" r="4.6" fill="url(#gSe)"/>
<circle cx="590.6" cy="129.0" r="4.6" fill="url(#gSe)"/>
<circle cx="607.1" cy="92.3" r="4.6" fill="url(#gSe)"/>
<circle cx="607.1" cy="129.0" r="4.6" fill="url(#gSe)"/>
<circle cx="623.5" cy="92.3" r="4.6" fill="url(#gSe)"/>
<circle cx="623.5" cy="129.0" r="4.6" fill="url(#gSe)"/>
<circle cx="639.9" cy="92.3" r="4.6" fill="url(#gSe)"/>
<circle cx="639.9" cy="129.0" r="4.6" fill="url(#gSe)"/>
<circle cx="656.4" cy="92.3" r="4.6" fill="url(#gSe)"/>
<circle cx="656.4" cy="129.0" r="4.6" fill="url(#gSe)"/>
<circle cx="672.8" cy="92.3" r="4.6" fill="url(#gSe)"/>
<circle cx="672.8" cy="129.0" r="4.6" fill="url(#gSe)"/>
<circle cx="246.1" cy="110.6" r="7.5" fill="url(#gW)"/>
<circle cx="262.5" cy="110.6" r="7.5" fill="url(#gW)"/>
<circle cx="279.0" cy="110.6" r="7.5" fill="url(#gW)"/>
<circle cx="295.4" cy="110.6" r="7.5" fill="url(#gW)"/>
<circle cx="311.8" cy="110.6" r="7.5" fill="url(#gW)"/>
<circle cx="328.2" cy="110.6" r="7.5" fill="url(#gW)"/>
<circle cx="344.7" cy="110.6" r="7.5" fill="url(#gW)"/>
<circle cx="361.1" cy="110.6" r="7.5" fill="url(#gW)"/>
<circle cx="377.5" cy="110.6" r="7.5" fill="url(#gW)"/>
<circle cx="394.0" cy="110.6" r="7.5" fill="url(#gW)"/>
<circle cx="410.4" cy="110.6" r="7.5" fill="url(#gW)"/>
<circle cx="426.8" cy="110.6" r="7.5" fill="url(#gW)"/>
<circle cx="443.3" cy="110.6" r="7.5" fill="url(#gW)"/>
<circle cx="459.7" cy="110.6" r="7.5" fill="url(#gW)"/>
<circle cx="476.1" cy="110.6" r="7.5" fill="url(#gW)"/>
<circle cx="492.5" cy="110.6" r="7.5" fill="url(#gW)"/>
<circle cx="509.0" cy="110.6" r="7.5" fill="url(#gW)"/>
<circle cx="525.4" cy="110.6" r="7.5" fill="url(#gW)"/>
<circle cx="541.8" cy="110.6" r="7.5" fill="url(#gW)"/>
<circle cx="558.3" cy="110.6" r="7.5" fill="url(#gW)"/>
<circle cx="574.7" cy="110.6" r="7.5" fill="url(#gW)"/>
<circle cx="591.1" cy="110.6" r="7.5" fill="url(#gW)"/>
<circle cx="607.6" cy="110.6" r="7.5" fill="url(#gW)"/>
<circle cx="624.0" cy="110.6" r="7.5" fill="url(#gW)"/>
<circle cx="640.4" cy="110.6" r="7.5" fill="url(#gW)"/>
<circle cx="656.9" cy="110.6" r="7.5" fill="url(#gW)"/>
<circle cx="673.3" cy="110.6" r="7.5" fill="url(#gW)"/>
</g>
<ellipse cx="361.3" cy="103.6" rx="27.8" ry="47.6" fill="none" stroke="#0a141c" stroke-width="1.0"/>
<ellipse cx="361.3" cy="103.9" rx="23.2" ry="22.7" fill="none" stroke="#0a141c" stroke-width="1.0"/>
<ellipse cx="361.3" cy="104.5" rx="25.0" ry="7.1" fill="none" stroke="#0a141c" stroke-width="1.0"/>
<path d="M366.2,56.0 L359.3,52.1 L359.7,56.0 L359.3,59.9 Z" fill="#05080c"/>
<path d="M366.2,151.2 L359.3,147.3 L359.7,151.2 L359.3,155.1 Z" fill="#05080c"/>
<path d="M366.2,81.2 L359.3,77.3 L359.7,81.2 L359.3,85.1 Z" fill="#05080c"/>
<path d="M366.2,126.6 L359.3,122.7 L359.7,126.6 L359.3,130.5 Z" fill="#05080c"/>
<path d="M366.2,97.4 L359.3,93.5 L359.7,97.4 L359.3,101.3 Z" fill="#05080c"/>
<path d="M366.2,111.6 L359.3,107.7 L359.7,111.6 L359.3,115.5 Z" fill="#05080c"/>
<ellipse cx="598.9" cy="104.6" rx="34.8" ry="59.4" fill="none" stroke="#0a141c" stroke-width="1.0"/>
<ellipse cx="598.9" cy="104.6" rx="27.2" ry="36.9" fill="none" stroke="#0a141c" stroke-width="1.0"/>
<ellipse cx="598.9" cy="104.6" rx="27.2" ry="15.7" fill="none" stroke="#0a141c" stroke-width="1.0"/>
<path d="M602.2,45.2 L595.3,41.3 L595.7,45.2 L595.3,49.1 Z" fill="#05080c"/>
<path d="M602.2,164.0 L595.3,160.1 L595.7,164.0 L595.3,167.9 Z" fill="#05080c"/>
<path d="M602.2,67.7 L595.3,63.8 L595.7,67.7 L595.3,71.6 Z" fill="#05080c"/>
<path d="M602.2,141.5 L595.3,137.6 L595.7,141.5 L595.3,145.4 Z" fill="#05080c"/>
<path d="M602.2,88.9 L595.3,85.0 L595.7,88.9 L595.3,92.8 Z" fill="#05080c"/>
<path d="M602.2,120.3 L595.3,116.4 L595.7,120.3 L595.3,124.2 Z" fill="#05080c"/>
<circle cx="337.2" cy="103.3" r="12.5" fill="url(#gGlow)"/>
<circle cx="337.2" cy="103.3" r="8.5" fill="url(#gH)"/>
<text x="337.5" y="109.5" font-family="Liberation Serif, serif" font-weight="bold" font-size="19.5" fill="#fff" text-anchor="middle">h</text>
<circle cx="386.8" cy="102.8" r="12.5" fill="url(#gGlow)"/>
<circle cx="386.8" cy="102.8" r="8.5" fill="url(#gE)"/>
<text x="386.8" y="107.4" font-family="Liberation Serif, serif" font-weight="bold" font-size="21" fill="#fff" text-anchor="middle">e</text>
<circle cx="572.4" cy="104.2" r="12.5" fill="url(#gGlow)"/>
<circle cx="572.4" cy="104.2" r="8.5" fill="url(#gH)"/>
<text x="572.7" y="110.4" font-family="Liberation Serif, serif" font-weight="bold" font-size="19.5" fill="#fff" text-anchor="middle">h</text>
<circle cx="626.0" cy="103.5" r="12.5" fill="url(#gGlow)"/>
<circle cx="626.0" cy="103.5" r="8.5" fill="url(#gE)"/>
<text x="626.0" y="108.1" font-family="Liberation Serif, serif" font-weight="bold" font-size="21" fill="#fff" text-anchor="middle">e</text>
<path d="M278.0,227.0 L277.6,245.0 L276.4,265.0 L275.9,285.0 L275.2,305.0 L273.3,325.0 L272.0,340.0 L270.0,350.0 L266.4,359.0 L263.0,368.0 L261.5,375.0 L286.0,398.0 L313.8,378.0 L347.0,396.0 L372.6,364.7 L370.5,359.0 L367.0,350.0 L365.0,340.0 L362.4,325.0 L359.5,300.0 L357.0,285.0 L356.0,265.0 L354.5,245.0 L355.5,227.0 A38.8,12.0 0 0 0 278.0,227.0 Z" fill="#1a2458" opacity="0.35" filter="url(#c_halo)"/>
<g filter="url(#c_bl0)"><g clip-path="url(#c_body0)">
<polygon points="274.0,210.0 273.6,245.0 271.9,285.0 269.3,325.0 262.4,359.0 257.7,378.0 252.0,402.0 284.4,402.0 287.2,378.0 289.9,359.0 293.2,325.0 292.3,285.0 290.6,245.0 289.9,210.0" fill="#0e1a4a"/>
<polygon points="289.1,210.0 289.8,245.0 291.5,285.0 292.4,325.0 289.1,359.0 286.4,378.0 283.6,402.0 287.4,402.0 290.4,378.0 293.4,359.0 295.2,325.0 295.4,285.0 294.6,245.0 293.9,210.0" fill="#521c7c"/>
<polygon points="293.1,210.0 293.8,245.0 294.6,285.0 294.4,325.0 292.6,359.0 289.6,378.0 286.6,402.0 290.4,402.0 293.4,378.0 296.2,359.0 298.1,325.0 298.6,285.0 298.1,245.0 297.4,210.0" fill="#b41e64"/>
<polygon points="296.6,210.0 297.3,245.0 297.8,285.0 297.3,325.0 295.4,359.0 292.6,378.0 289.6,402.0 293.9,402.0 296.7,378.0 299.2,359.0 300.3,325.0 300.9,285.0 300.3,245.0 299.7,210.0" fill="#e6321e"/>
<polygon points="298.9,210.0 299.5,245.0 300.1,285.0 299.5,325.0 298.4,359.0 295.9,378.0 293.1,402.0 297.4,402.0 300.1,378.0 302.4,359.0 303.4,325.0 303.4,285.0 303.1,245.0 302.4,210.0" fill="#ff9200"/>
<polygon points="301.6,210.0 302.3,245.0 302.6,285.0 302.6,325.0 301.6,359.0 299.3,378.0 296.6,402.0 303.9,402.0 305.7,378.0 307.6,359.0 307.7,325.0 307.7,285.0 306.8,245.0 306.4,210.0" fill="#ffe414"/>
<polygon points="305.6,210.0 306.0,245.0 306.9,285.0 306.9,325.0 306.8,359.0 304.9,378.0 303.1,402.0 311.4,402.0 312.4,378.0 313.9,359.0 313.8,325.0 313.8,285.0 313.8,245.0 313.8,210.0" fill="url(#c_gy0)"/>
<polygon points="313.0,210.0 313.0,245.0 313.0,285.0 313.0,325.0 313.1,359.0 311.6,378.0 310.6,402.0 330.4,402.0 328.4,378.0 326.4,359.0 324.4,325.0 321.7,285.0 321.7,245.0 321.4,210.0" fill="#fffcc0"/>
<polygon points="320.6,210.0 320.9,245.0 320.9,285.0 323.6,325.0 325.6,359.0 327.6,378.0 329.6,402.0 335.4,402.0 334.2,378.0 333.2,359.0 329.6,325.0 328.7,285.0 328.7,245.0 328.4,210.0" fill="#ffe414"/>
<polygon points="327.6,210.0 327.9,245.0 327.9,285.0 328.8,325.0 332.4,359.0 333.4,378.0 334.6,402.0 339.4,402.0 338.0,378.0 336.6,359.0 333.1,325.0 331.9,285.0 331.4,245.0 331.0,210.0" fill="#ff9200"/>
<polygon points="330.2,210.0 330.6,245.0 331.1,285.0 332.3,325.0 335.8,359.0 337.2,378.0 338.6,402.0 343.9,402.0 341.8,378.0 339.9,359.0 335.7,325.0 333.6,285.0 333.1,245.0 332.8,210.0" fill="#e6321e"/>
<polygon points="332.0,210.0 332.3,245.0 332.8,285.0 334.9,325.0 339.1,359.0 341.0,378.0 343.1,402.0 350.4,402.0 347.4,378.0 344.6,359.0 339.2,325.0 337.1,285.0 336.6,245.0 336.2,210.0" fill="#b41e64"/>
<polygon points="335.4,210.0 335.8,245.0 336.3,285.0 338.4,325.0 343.8,359.0 346.6,378.0 349.6,402.0 356.4,402.0 353.2,378.0 349.4,359.0 342.7,325.0 340.1,285.0 340.1,245.0 339.8,210.0" fill="#521c7c"/>
<polygon points="339.0,210.0 339.3,245.0 339.3,285.0 341.9,325.0 348.6,359.0 352.4,378.0 355.6,402.0 381.0,402.0 378.0,378.0 374.7,359.0 366.4,325.0 361.0,285.0 358.5,245.0 359.5,210.0" fill="#0e1a4a"/>
<g clip-path="url(#c_capc0)"><ellipse cx="316.8" cy="227.9" rx="55.7" ry="14.0" fill="url(#c_cap)"/></g>
</g></g>
<line x1="314.3" y1="230.2" x2="314.3" y2="377.0" stroke="#fffff0" stroke-width="1.3" opacity="0.55"/>
<g fill="none" stroke="#3fa9dc" stroke-width="1.25" stroke-linejoin="round">
<polygon points="244.6,225.7 312.6,203.8 384.3,222.3 319.4,258.2"/>
<polyline points="244.6,225.7 256.0,376.8 318.8,430.6 379.8,364.2"/>
<polyline points="379.8,364.2 384.3,222.3"/>
<polyline points="319.4,258.2 318.8,430.6"/>
<line x1="267.2" y1="386.5" x2="272.6" y2="382.1"/>
<line x1="284.1" y1="400.8" x2="289.5" y2="396.4"/>
<line x1="302.0" y1="416.4" x2="307.4" y2="412.0"/>
<line x1="334.2" y1="414.0" x2="328.9" y2="410.3"/>
<line x1="352.1" y1="394.4" x2="346.8" y2="390.7"/>
<line x1="369.0" y1="376.0" x2="363.7" y2="372.3"/>
<line x1="251" y1="295.5" x2="257.3" y2="293.7"/>
</g>
<rect x="295.1" y="443.4" width="52" height="11" fill="url(#cb)" stroke="#888" stroke-width="0.6"/>
<path d="M427.0,229.0 L425.9,245.0 L426.5,265.0 L425.0,285.0 L426.5,305.0 L426.0,325.0 L425.0,340.0 L422.0,357.0 L421.0,372.0 L422.0,384.0 L436.4,399.0 L465.7,379.3 L495.0,396.4 L516.0,374.5 L514.0,360.0 L511.0,340.0 L509.3,325.0 L508.0,300.0 L508.9,285.0 L508.0,245.0 L508.0,229.0 A40.5,12.0 0 0 0 427.0,229.0 Z" fill="#4a2058" opacity="0.5" filter="url(#c_halo)"/>
<g filter="url(#c_bl1)"><g clip-path="url(#c_body1)">
<polygon points="423.0,210.0 421.9,245.0 421.0,285.0 422.0,325.0 418.0,357.0 413.0,402.0 433.4,402.0 435.8,357.0 438.6,325.0 436.7,285.0 439.3,245.0 439.3,210.0" fill="url(#c_n2)"/>
<polygon points="438.5,210.0 438.5,245.0 435.9,285.0 437.8,325.0 435.0,357.0 432.6,402.0 438.9,402.0 440.0,357.0 441.4,325.0 442.8,285.0 444.6,245.0 444.6,210.0" fill="url(#c_p2)"/>
<polygon points="443.8,210.0 443.8,245.0 442.0,285.0 440.6,325.0 439.2,357.0 438.1,402.0 444.4,402.0 444.3,357.0 444.3,325.0 446.3,285.0 447.2,245.0 447.2,210.0" fill="url(#c_m2)"/>
<polygon points="446.4,210.0 446.4,245.0 445.5,285.0 443.5,325.0 443.5,357.0 443.6,402.0 448.9,402.0 448.1,357.0 447.5,325.0 448.1,285.0 449.3,245.0 449.3,210.0" fill="#e6321e"/>
<polygon points="448.5,210.0 448.5,245.0 447.3,285.0 446.7,325.0 447.3,357.0 448.1,402.0 451.4,402.0 450.9,357.0 450.9,325.0 451.0,285.0 451.6,245.0 451.6,210.0" fill="#ff9200"/>
<polygon points="450.8,210.0 450.8,245.0 450.2,285.0 450.1,325.0 450.1,357.0 450.6,402.0 458.9,402.0 458.4,357.0 457.6,325.0 456.8,285.0 456.3,245.0 456.3,210.0" fill="#ffe414"/>
<polygon points="455.5,210.0 455.5,245.0 456.0,285.0 456.8,325.0 457.6,357.0 458.1,402.0 464.9,402.0 465.2,357.0 465.2,325.0 465.6,285.0 465.6,245.0 465.6,210.0" fill="url(#c_gy1)"/>
<polygon points="464.8,210.0 464.8,245.0 464.8,285.0 464.4,325.0 464.4,357.0 464.1,402.0 477.4,402.0 474.7,357.0 472.8,325.0 470.8,285.0 470.8,245.0 470.8,210.0" fill="#fff456"/>
<polygon points="470.0,210.0 470.0,245.0 470.0,285.0 472.0,325.0 473.9,357.0 476.6,402.0 483.4,402.0 480.4,357.0 479.4,325.0 477.9,285.0 478.7,245.0 478.7,210.0" fill="#ffe414"/>
<polygon points="477.9,210.0 477.9,245.0 477.1,285.0 478.6,325.0 479.6,357.0 482.6,402.0 488.4,402.0 485.1,357.0 482.3,325.0 480.4,285.0 481.4,245.0 481.4,210.0" fill="#ff9200"/>
<polygon points="480.6,210.0 480.6,245.0 479.6,285.0 481.5,325.0 484.3,357.0 487.6,402.0 495.4,402.0 490.8,357.0 487.0,325.0 482.6,285.0 483.1,245.0 483.1,210.0" fill="#e6321e"/>
<polygon points="482.3,210.0 482.3,245.0 481.8,285.0 486.2,325.0 490.0,357.0 494.6,402.0 499.4,402.0 494.4,357.0 489.9,325.0 487.4,285.0 487.4,245.0 487.4,210.0" fill="url(#c_m2)"/>
<polygon points="486.6,210.0 486.6,245.0 486.6,285.0 489.1,325.0 493.6,357.0 498.6,402.0 503.4,402.0 498.4,357.0 492.7,325.0 496.2,285.0 492.7,245.0 492.7,210.0" fill="url(#c_p2)"/>
<polygon points="491.9,210.0 491.9,245.0 495.4,285.0 491.9,325.0 497.6,357.0 502.6,402.0 522.0,402.0 517.0,357.0 513.3,325.0 512.9,285.0 512.0,245.0 512.0,210.0" fill="url(#c_n2)"/>
<g clip-path="url(#c_capc1)"><ellipse cx="467.5" cy="229.7" rx="57.5" ry="14.9" fill="url(#c_cap1)"/></g>
</g></g>
<line x1="466.0" y1="232.0" x2="466.0" y2="378.0" stroke="#fffff0" stroke-width="1.3" opacity="0.85"/>
<g stroke="#f6f08a" stroke-width="0.8" opacity="0.55" clip-path="url(#c_body1)"><line x1="456.5" y1="237.8" x2="456.1" y2="400.0"/><line x1="458.4" y1="236.6" x2="459.0" y2="400.0"/><line x1="460.3" y1="235.4" x2="459.9" y2="400.0"/><line x1="462.2" y1="234.2" x2="462.8" y2="400.0"/><line x1="464.1" y1="233.0" x2="463.7" y2="400.0"/></g>
<g fill="none" stroke="#3fa9dc" stroke-width="1.25" stroke-linejoin="round">
<polygon points="395.0,225.7 463.0,203.8 534.7,222.3 469.8,258.2"/>
<polyline points="395.0,225.7 406.4,376.8 469.2,430.6 530.2,364.2"/>
<polyline points="530.2,364.2 534.7,222.3"/>
<polyline points="469.8,258.2 469.2,430.6"/>
<line x1="417.6" y1="386.5" x2="423.0" y2="382.1"/>
<line x1="434.5" y1="400.8" x2="439.9" y2="396.4"/>
<line x1="452.4" y1="416.4" x2="457.8" y2="412.0"/>
<line x1="484.6" y1="414.0" x2="479.3" y2="410.3"/>
<line x1="502.5" y1="394.4" x2="497.2" y2="390.7"/>
<line x1="519.4" y1="376.0" x2="514.1" y2="372.3"/>
</g>
<rect x="445.5" y="443.4" width="52" height="11" fill="url(#cb)" stroke="#888" stroke-width="0.6"/>
<path d="M577.0,228.0 L575.9,245.0 L576.5,265.0 L576.0,285.0 L575.5,305.0 L575.0,320.0 L575.6,340.0 L576.0,357.0 L579.0,375.0 L581.6,389.7 L589.2,398.0 L615.7,380.2 L647.0,393.5 L653.6,386.0 L657.4,367.0 L658.0,345.0 L657.4,325.0 L655.0,300.0 L654.5,285.0 L655.2,265.0 L656.0,245.0 L655.5,228.0 A39.2,12.0 0 0 0 577.0,228.0 Z" fill="#2a2060" opacity="0.5" filter="url(#c_halo)"/>
<g filter="url(#c_bl2x)"><g clip-path="url(#c_body2)">
<polygon points="573.0,210.0 571.9,245.0 572.0,285.0 571.0,325.0 572.0,357.0 581.0,402.0 590.4,402.0 587.4,357.0 586.4,325.0 595.4,285.0 592.8,245.0 592.8,210.0" fill="#0e1a4a"/>
<polygon points="592.0,210.0 592.0,245.0 594.6,285.0 585.6,325.0 586.6,357.0 589.6,402.0 595.4,402.0 593.4,357.0 592.4,325.0 599.8,285.0 596.4,245.0 596.4,210.0" fill="url(#c_p3)"/>
<polygon points="595.6,210.0 595.6,245.0 599.0,285.0 591.6,325.0 592.6,357.0 594.6,402.0 599.4,402.0 598.1,357.0 598.1,325.0 602.4,285.0 598.9,245.0 598.9,210.0" fill="#b41e64"/>
<polygon points="598.1,210.0 598.1,245.0 601.6,285.0 597.3,325.0 597.3,357.0 598.6,402.0 601.4,402.0 600.4,357.0 600.0,325.0 603.7,285.0 600.4,245.0 600.4,210.0" fill="#e6321e"/>
<polygon points="599.6,210.0 599.6,245.0 602.9,285.0 599.2,325.0 599.6,357.0 600.6,402.0 603.4,402.0 602.8,357.0 602.9,325.0 605.1,285.0 602.4,245.0 602.4,210.0" fill="#ff9200"/>
<polygon points="601.6,210.0 601.6,245.0 604.3,285.0 602.1,325.0 602.0,357.0 602.6,402.0 608.4,402.0 608.4,357.0 609.4,325.0 611.2,285.0 610.4,245.0 610.4,210.0" fill="#ffe414"/>
<polygon points="609.6,210.0 609.6,245.0 610.4,285.0 608.6,325.0 607.6,357.0 607.6,402.0 612.4,402.0 612.4,357.0 614.4,325.0 616.4,285.0 616.4,245.0 616.4,210.0" fill="url(#c_gy2)"/>
<polygon points="615.6,210.0 615.6,245.0 615.6,285.0 613.6,325.0 611.6,357.0 611.6,402.0 621.4,402.0 620.9,357.0 620.9,325.0 620.8,285.0 620.8,245.0 620.8,210.0" fill="#fff672"/>
<polygon points="620.0,210.0 620.0,245.0 620.0,285.0 620.1,325.0 620.1,357.0 620.6,402.0 627.4,402.0 626.6,357.0 626.6,325.0 625.2,285.0 627.9,245.0 627.9,210.0" fill="#ffe414"/>
<polygon points="627.1,210.0 627.1,245.0 624.4,285.0 625.8,325.0 625.8,357.0 626.6,402.0 631.4,402.0 630.4,357.0 631.4,325.0 629.6,285.0 630.4,245.0 630.4,210.0" fill="#ff9200"/>
<polygon points="629.6,210.0 629.6,245.0 628.8,285.0 630.6,325.0 629.6,357.0 630.6,402.0 634.4,402.0 633.2,357.0 635.1,325.0 632.2,285.0 632.2,245.0 632.2,210.0" fill="#e6321e"/>
<polygon points="631.4,210.0 631.4,245.0 631.4,285.0 634.3,325.0 632.4,357.0 633.6,402.0 640.4,402.0 639.9,357.0 640.8,325.0 636.6,285.0 636.6,245.0 636.6,210.0" fill="#b41e64"/>
<polygon points="635.8,210.0 635.8,245.0 635.8,285.0 640.0,325.0 639.1,357.0 639.6,402.0 646.4,402.0 646.4,357.0 645.4,325.0 641.9,285.0 641.0,245.0 641.0,210.0" fill="url(#c_p3)"/>
<polygon points="640.2,210.0 640.2,245.0 641.1,285.0 644.6,325.0 645.6,357.0 645.6,402.0 655.0,402.0 661.4,357.0 661.4,325.0 658.5,285.0 660.2,245.0 660.2,210.0" fill="#0e1a4a"/>
<g clip-path="url(#c_capc2)"><ellipse cx="616.0" cy="228.9" rx="55.7" ry="15.4" fill="url(#c_cap2)"/></g>
</g></g>
<line x1="616.0" y1="231.2" x2="616.0" y2="379.0" stroke="#fffff0" stroke-width="1.3" opacity="0.7"/>
<g stroke="#fffbd0" stroke-width="0.8" opacity="0.6" clip-path="url(#c_body2)"><line x1="607.5" y1="237.0" x2="607.1" y2="400.0"/><line x1="609.4" y1="235.8" x2="610.0" y2="400.0"/><line x1="611.3" y1="234.6" x2="610.9" y2="400.0"/><line x1="613.2" y1="233.4" x2="613.8" y2="400.0"/><line x1="615.1" y1="232.2" x2="614.7" y2="400.0"/></g>
<g fill="none" stroke="#3fa9dc" stroke-width="1.25" stroke-linejoin="round">
<polygon points="545.2,225.7 613.2,203.8 684.9,222.3 620.0,258.2"/>
<polyline points="545.2,225.7 556.6,376.8 619.4,430.6 680.4,364.2"/>
<polyline points="680.4,364.2 684.9,222.3"/>
<polyline points="620.0,258.2 619.4,430.6"/>
<line x1="567.8" y1="386.5" x2="573.2" y2="382.1"/>
<line x1="584.7" y1="400.8" x2="590.1" y2="396.4"/>
<line x1="602.6" y1="416.4" x2="608.0" y2="412.0"/>
<line x1="634.8" y1="414.0" x2="629.5" y2="410.3"/>
<line x1="652.7" y1="394.4" x2="647.4" y2="390.7"/>
<line x1="669.6" y1="376.0" x2="664.3" y2="372.3"/>
</g>
<rect x="595.7" y="443.4" width="52" height="11" fill="url(#cb)" stroke="#888" stroke-width="0.6"/>
<!--c text-->
<line x1="33.6" y1="26.3" x2="33.6" y2="672.5" stroke="#000" stroke-width="1.1"/>
<line x1="175.6" y1="41.2" x2="175.6" y2="688.6" stroke="#000" stroke-width="1.1"/>
<g transform="translate(33.60,672.50)" filter="url(#nz0)"><g clip-path="url(#pc)"><polygon points="0,0 95.00,-14.80 142.00,14.80 47.00,29.60" fill="#030216"/><ellipse cx="63.20" cy="6.40" rx="60.00" ry="18.00" fill="url(#bg0)"/></g></g>
<g transform="translate(33.60,638.00)" filter="url(#nz1)"><g clip-path="url(#pc)"><polygon points="0,0 95.00,-14.80 142.00,14.80 47.00,29.60" fill="#030216"/><ellipse cx="63.20" cy="6.40" rx="57.00" ry="16.50" fill="url(#bg1)"/></g></g>
<g transform="translate(33.60,602.40)" filter="url(#nz0)"><g clip-path="url(#pc)"><polygon points="0,0 95.00,-14.80 142.00,14.80 47.00,29.60" fill="#030216"/><ellipse cx="63.20" cy="6.40" rx="60.00" ry="18.00" fill="url(#bg0)"/></g></g>
<g transform="translate(33.60,566.50)" filter="url(#nz1)"><g clip-path="url(#pc)"><polygon points="0,0 95.00,-14.80 142.00,14.80 47.00,29.60" fill="#030216"/><ellipse cx="63.20" cy="6.40" rx="57.00" ry="16.50" fill="url(#bg1)"/></g></g>
<g transform="translate(33.60,530.60)" filter="url(#nz0)"><g clip-path="url(#pc)"><polygon points="0,0 95.00,-14.80 142.00,14.80 47.00,29.60" fill="#030216"/><ellipse cx="63.20" cy="6.40" rx="60.00" ry="18.00" fill="url(#bg0)"/></g></g>
<g transform="translate(33.60,494.70)" filter="url(#nz1)"><g clip-path="url(#pc)"><polygon points="0,0 95.00,-14.80 142.00,14.80 47.00,29.60" fill="#030216"/><ellipse cx="63.20" cy="6.40" rx="57.00" ry="16.50" fill="url(#bg1)"/></g></g>
<g transform="translate(33.60,458.40)" filter="url(#nz0)"><g clip-path="url(#pc)"><polygon points="0,0 95.00,-14.80 142.00,14.80 47.00,29.60" fill="#030216"/><ellipse cx="63.20" cy="6.40" rx="60.00" ry="18.00" fill="url(#bg0)"/></g></g>
<g transform="translate(33.60,422.20)" filter="url(#nz1)"><g clip-path="url(#pc)"><polygon points="0,0 95.00,-14.80 142.00,14.80 47.00,29.60" fill="#030216"/><ellipse cx="63.20" cy="6.40" rx="57.00" ry="16.50" fill="url(#bg1)"/></g></g>
<g transform="translate(33.60,385.90)" filter="url(#nz0)"><g clip-path="url(#pc)"><polygon points="0,0 95.00,-14.80 142.00,14.80 47.00,29.60" fill="#030216"/><ellipse cx="63.20" cy="6.40" rx="60.00" ry="18.00" fill="url(#bg0)"/></g></g>
<g transform="translate(33.60,349.80)" filter="url(#nz1)"><g clip-path="url(#pc)"><polygon points="0,0 95.00,-14.80 142.00,14.80 47.00,29.60" fill="#030216"/><ellipse cx="63.20" cy="6.40" rx="57.00" ry="16.50" fill="url(#bg1)"/></g></g>
<g transform="translate(33.60,314.80)" filter="url(#nz0)"><g clip-path="url(#pc)"><polygon points="0,0 95.00,-14.80 142.00,14.80 47.00,29.60" fill="#030216"/><ellipse cx="63.20" cy="6.40" rx="60.00" ry="18.00" fill="url(#bg0)"/></g></g>
<g transform="translate(33.60,278.20)" filter="url(#nz1)"><g clip-path="url(#pc)"><polygon points="0,0 95.00,-14.80 142.00,14.80 47.00,29.60" fill="#030216"/><ellipse cx="63.20" cy="6.40" rx="57.00" ry="16.50" fill="url(#bg1)"/></g></g>
<g transform="translate(33.60,242.00)" filter="url(#nz0)"><g clip-path="url(#pc)"><polygon points="0,0 95.00,-14.80 142.00,14.80 47.00,29.60" fill="#030216"/><ellipse cx="63.20" cy="6.40" rx="60.00" ry="18.00" fill="url(#bg0)"/></g></g>
<g transform="translate(33.60,206.10)" filter="url(#nz1)"><g clip-path="url(#pc)"><polygon points="0,0 95.00,-14.80 142.00,14.80 47.00,29.60" fill="#030216"/><ellipse cx="63.20" cy="6.40" rx="57.00" ry="16.50" fill="url(#bg1)"/></g></g>
<g transform="translate(33.60,169.50)" filter="url(#nz0)"><g clip-path="url(#pc)"><polygon points="0,0 95.00,-14.80 142.00,14.80 47.00,29.60" fill="#030216"/><ellipse cx="63.20" cy="6.40" rx="60.00" ry="18.00" fill="url(#bg0)"/></g></g>
<g transform="translate(33.60,133.90)" filter="url(#nz1)"><g clip-path="url(#pc)"><polygon points="0,0 95.00,-14.80 142.00,14.80 47.00,29.60" fill="#030216"/><ellipse cx="63.20" cy="6.40" rx="57.00" ry="16.50" fill="url(#bg1)"/></g></g>
<g transform="translate(33.60,97.60)" filter="url(#nz0)"><g clip-path="url(#pc)"><polygon points="0,0 95.00,-14.80 142.00,14.80 47.00,29.60" fill="#030216"/><ellipse cx="63.20" cy="6.40" rx="60.00" ry="18.00" fill="url(#bg0)"/></g></g>
<g transform="translate(33.60,61.30)" filter="url(#nz1)"><g clip-path="url(#pc)"><polygon points="0,0 95.00,-14.80 142.00,14.80 47.00,29.60" fill="#030216"/><ellipse cx="63.20" cy="6.40" rx="57.00" ry="16.50" fill="url(#bg1)"/></g></g>
<g transform="translate(33.60,26.30)" filter="url(#nz0)"><g clip-path="url(#pc)"><polygon points="0,0 95.00,-14.80 142.00,14.80 47.00,29.60" fill="#030216"/><ellipse cx="63.20" cy="6.40" rx="60.00" ry="18.00" fill="url(#bg0)"/></g></g>
<polyline points="56.6,32.1 56.6,59.7 60.7,69.0 56.6,77.8 56.6,105.0 56.6,135.7 65.0,145.0 56.6,153.8 56.6,178.6 56.6,207.6 66.7,216.9 56.6,225.7 56.6,250.0 56.6,276.9 61.9,286.2 56.6,295.0 56.6,322.9 56.6,347.7 62.1,357.0 56.6,365.8 56.6,393.6 56.6,420.7 61.1,430.0 56.6,438.8 56.6,466.0 56.6,492.3 65.7,501.6 56.6,510.4 56.6,537.0 56.6,566.2 65.2,575.5 56.6,584.3 56.6,610.3 56.6,637.9 62.6,647.2 56.6,656.0 56.6,680.0" fill="none" stroke="#a9c9e8" stroke-width="3" stroke-linejoin="round"/>
<circle cx="56.6" cy="32.1" r="3.2" fill="#fff"/>
<circle cx="60.7" cy="69.0" r="3.2" fill="#fff"/>
<circle cx="56.6" cy="105.0" r="3.2" fill="#fff"/>
<circle cx="65.0" cy="145.0" r="3.2" fill="#fff"/>
<circle cx="56.6" cy="178.6" r="3.2" fill="#fff"/>
<circle cx="66.7" cy="216.9" r="3.2" fill="#fff"/>
<circle cx="56.6" cy="250.0" r="3.2" fill="#fff"/>
<circle cx="61.9" cy="286.2" r="3.2" fill="#fff"/>
<circle cx="56.6" cy="322.9" r="3.2" fill="#fff"/>
<circle cx="62.1" cy="357.0" r="3.2" fill="#fff"/>
<circle cx="56.6" cy="393.6" r="3.2" fill="#fff"/>
<circle cx="61.1" cy="430.0" r="3.2" fill="#fff"/>
<circle cx="56.6" cy="466.0" r="3.2" fill="#fff"/>
<circle cx="65.7" cy="501.6" r="3.2" fill="#fff"/>
<circle cx="56.6" cy="537.0" r="3.2" fill="#fff"/>
<circle cx="65.2" cy="575.5" r="3.2" fill="#fff"/>
<circle cx="56.6" cy="610.3" r="3.2" fill="#fff"/>
<circle cx="62.6" cy="647.2" r="3.2" fill="#fff"/>
<circle cx="56.6" cy="680.0" r="3.2" fill="#fff"/>
<line x1="93.5" y1="701.8" x2="94.0" y2="697.8" stroke="#fff" stroke-width="1"/>
<line x1="125.2" y1="696.8" x2="125.7" y2="692.8" stroke="#fff" stroke-width="1"/>
<line x1="158.0" y1="691.7" x2="158.5" y2="687.7" stroke="#fff" stroke-width="1"/>
<line x1="45.7" y1="680.6" x2="49.7" y2="680.0" stroke="#fff" stroke-width="1"/>
<line x1="58.0" y1="688.6" x2="62.0" y2="688.0" stroke="#fff" stroke-width="1"/>
<line x1="70.7" y1="696.8" x2="74.7" y2="696.2" stroke="#fff" stroke-width="1"/>
<text x="147" y="79.2" font-family="Liberation Sans, sans-serif" font-size="14.5" fill="#fff" text-anchor="middle">1/7</text>
<text x="147" y="151.3" font-family="Liberation Sans, sans-serif" font-size="14.5" fill="#fff" text-anchor="middle">1/4</text>
<text x="147" y="223.4" font-family="Liberation Sans, sans-serif" font-size="14.5" fill="#fff" text-anchor="middle">1/3</text>
<text x="147" y="295.5" font-family="Liberation Sans, sans-serif" font-size="14.5" fill="#fff" text-anchor="middle">2/5</text>
<text x="147" y="367.6" font-family="Liberation Sans, sans-serif" font-size="14.5" fill="#fff" text-anchor="middle">1/2</text>
<text x="147" y="439.7" font-family="Liberation Sans, sans-serif" font-size="14.5" fill="#fff" text-anchor="middle">3/5</text>
<text x="147" y="511.8" font-family="Liberation Sans, sans-serif" font-size="14.5" fill="#fff" text-anchor="middle">2/3</text>
<text x="147" y="583.9" font-family="Liberation Sans, sans-serif" font-size="14.5" fill="#fff" text-anchor="middle">3/4</text>
<text x="147" y="656.0" font-family="Liberation Sans, sans-serif" font-size="14.5" fill="#fff" text-anchor="middle">6/7</text>
<text x="3.0" y="14.0" font-family="Liberation Sans, sans-serif" font-size="16.5" fill="#000" text-anchor="start" font-weight="bold">a</text>
<text x="26.5" y="33.2" font-family="Liberation Sans, sans-serif" font-size="15.5" fill="#000" text-anchor="middle">0</text>
<text x="21.7" y="322.4" font-family="Liberation Sans, sans-serif" font-size="15.5" fill="#000" text-anchor="middle">2</text>
<text x="22.3" y="681.0" font-family="Liberation Sans, sans-serif" font-size="15.5" fill="#000" text-anchor="middle">4</text>
<text x="15.5" y="360.5" font-family="Liberation Sans, sans-serif" font-size="15.5" fill="#000" text-anchor="middle" transform="rotate(-90.0 15.5 360.5)"><tspan font-style="italic">V</tspan><tspan font-size="11" dy="3">g</tspan><tspan dy="-3"> (V)</tspan></text>
<text x="34.5" y="691.3" font-family="Liberation Sans, sans-serif" font-size="15.5" fill="#000" text-anchor="middle">1</text>
<text x="51.3" y="703.2" font-family="Liberation Sans, sans-serif" font-size="15.5" fill="#000" text-anchor="middle">0</text>
<text x="66.6" y="713.5" font-family="Liberation Sans, sans-serif" font-size="15.5" fill="#000" text-anchor="middle">-1</text>
<text x="95.7" y="716.2" font-family="Liberation Sans, sans-serif" font-size="15.5" fill="#000" text-anchor="middle">-1</text>
<text x="132.6" y="712.1" font-family="Liberation Sans, sans-serif" font-size="15.5" fill="#000" text-anchor="middle">0</text>
<text x="168.2" y="707.1" font-family="Liberation Sans, sans-serif" font-size="15.5" fill="#000" text-anchor="middle">1</text>
<text x="34.0" y="709.8" font-family="Liberation Sans, sans-serif" font-size="15.5" fill="#000" text-anchor="middle" transform="rotate(42.0 34.0 709.8)">y (µm)</text>
<text x="136.0" y="725.9" font-family="Liberation Sans, sans-serif" font-size="15.5" fill="#000" text-anchor="middle" transform="rotate(-8.0 136.0 725.9)">x (µm)</text>
<text x="82.4" y="733.4" font-family="Liberation Sans, sans-serif" font-size="15.5" fill="#000" text-anchor="middle"><tspan font-size="14" dy="-1">△</tspan><tspan dy="1" dx="0.8">R</tspan></text>
<text x="47.2" y="745.4" font-family="Liberation Sans, sans-serif" font-size="15.5" fill="#000" text-anchor="middle">0</text>
<text x="112.3" y="745.4" font-family="Liberation Sans, sans-serif" font-size="15.5" fill="#000" text-anchor="middle">1</text>
<rect x="56.2" y="734.5" width="51.5" height="10.5" fill="url(#cb)" stroke="#888" stroke-width="0.6"/>
<rect x="248.9" y="543.0" width="4.4" height="145.3" fill="#f4867e"/>
<rect x="259.8" y="541.8" width="4.4" height="146.5" fill="#f4867e"/>
<rect x="265.2" y="550.2" width="4.4" height="138.1" fill="#f4867e"/>
<rect x="282.0" y="648.6" width="4.4" height="39.7" fill="#f4867e"/>
<rect x="292.9" y="545.6" width="4.4" height="142.7" fill="#f4867e"/>
<rect x="298.4" y="661.3" width="4.4" height="27.0" fill="#f4867e"/>
<rect x="303.8" y="543.0" width="4.4" height="145.3" fill="#f4867e"/>
<rect x="314.7" y="604.6" width="4.4" height="83.7" fill="#f4867e"/>
<rect x="325.8" y="542.3" width="4.4" height="146.0" fill="#f4867e"/>
<rect x="336.7" y="634.6" width="4.4" height="53.7" fill="#f4867e"/>
<rect x="342.1" y="541.8" width="4.4" height="146.5" fill="#f4867e"/>
<rect x="358.7" y="605.3" width="4.4" height="83.0" fill="#f4867e"/>
<rect x="369.8" y="542.3" width="4.4" height="146.0" fill="#f4867e"/>
<rect x="375.2" y="660.0" width="4.4" height="28.3" fill="#f4867e"/>
<rect x="386.3" y="545.0" width="4.4" height="143.3" fill="#f4867e"/>
<rect x="391.8" y="617.3" width="4.4" height="71.0" fill="#f4867e"/>
<rect x="402.7" y="550.2" width="4.4" height="138.1" fill="#f4867e"/>
<rect x="408.1" y="546.9" width="4.4" height="141.4" fill="#f4867e"/>
<rect x="457.9" y="537.2" width="4.4" height="151.1" fill="#f4867e"/>
<rect x="506.6" y="576.6" width="4.4" height="111.7" fill="#f4867e"/>
<rect x="512.1" y="547.6" width="4.4" height="140.7" fill="#f4867e"/>
<rect x="523.1" y="621.9" width="4.4" height="66.4" fill="#f4867e"/>
<rect x="528.7" y="544.3" width="4.4" height="144.0" fill="#f4867e"/>
<rect x="539.7" y="659.3" width="4.4" height="29.0" fill="#f4867e"/>
<rect x="545.2" y="546.1" width="4.4" height="142.2" fill="#f4867e"/>
<rect x="556.2" y="605.3" width="4.4" height="83.0" fill="#f4867e"/>
<rect x="572.2" y="540.0" width="4.4" height="148.3" fill="#f4867e"/>
<rect x="577.9" y="632.6" width="4.4" height="55.7" fill="#f4867e"/>
<rect x="589.0" y="543.0" width="4.4" height="145.3" fill="#f4867e"/>
<rect x="600.1" y="603.6" width="4.4" height="84.7" fill="#f4867e"/>
<rect x="611.0" y="543.0" width="4.4" height="145.3" fill="#f4867e"/>
<rect x="616.3" y="658.2" width="4.4" height="30.1" fill="#f4867e"/>
<rect x="622.0" y="545.0" width="4.4" height="143.3" fill="#f4867e"/>
<rect x="632.8" y="644.2" width="4.4" height="44.1" fill="#f4867e"/>
<rect x="649.5" y="540.5" width="4.4" height="147.8" fill="#f4867e"/>
<rect x="655.0" y="571.0" width="4.4" height="117.3" fill="#f4867e"/>
<rect x="666.0" y="544.3" width="4.4" height="144.0" fill="#f4867e"/>
<line x1="240.6" y1="543.9" x2="679.2" y2="543.9" stroke="#000" stroke-width="1.2" stroke-dasharray="4.6,2.6"/>
<path d="M240.6 519.5 V688.3 H679.2 V519.5 Z" fill="none" stroke="#000" stroke-width="1.1"/>
<line x1="295.4" y1="688.3" x2="295.4" y2="683.8" stroke="#000" stroke-width="1.1"/>
<line x1="350.3" y1="688.3" x2="350.3" y2="683.8" stroke="#000" stroke-width="1.1"/>
<line x1="405.1" y1="688.3" x2="405.1" y2="683.8" stroke="#000" stroke-width="1.1"/>
<line x1="460.0" y1="688.3" x2="460.0" y2="683.8" stroke="#000" stroke-width="1.1"/>
<line x1="514.9" y1="688.3" x2="514.9" y2="683.8" stroke="#000" stroke-width="1.1"/>
<line x1="569.7" y1="688.3" x2="569.7" y2="683.8" stroke="#000" stroke-width="1.1"/>
<line x1="624.5" y1="688.3" x2="624.5" y2="683.8" stroke="#000" stroke-width="1.1"/>
<line x1="240.6" y1="534.7" x2="245.1" y2="534.7" stroke="#000" stroke-width="1.1"/>
<line x1="240.6" y1="611.4" x2="245.1" y2="611.4" stroke="#000" stroke-width="1.1"/>
<line x1="284.5" y1="519.5" x2="284.5" y2="524.0" stroke="#000" stroke-width="1.1"/>
<line x1="301.4" y1="519.5" x2="301.4" y2="524.0" stroke="#000" stroke-width="1.1"/>
<line x1="317.2" y1="519.5" x2="317.2" y2="524.0" stroke="#000" stroke-width="1.1"/>
<line x1="339.0" y1="519.5" x2="339.0" y2="524.0" stroke="#000" stroke-width="1.1"/>
<line x1="361.2" y1="519.5" x2="361.2" y2="524.0" stroke="#000" stroke-width="1.1"/>
<line x1="377.5" y1="519.5" x2="377.5" y2="524.0" stroke="#000" stroke-width="1.1"/>
<line x1="393.9" y1="519.5" x2="393.9" y2="524.0" stroke="#000" stroke-width="1.1"/>
<line x1="508.9" y1="519.5" x2="508.9" y2="524.0" stroke="#000" stroke-width="1.1"/>
<line x1="525.4" y1="519.5" x2="525.4" y2="524.0" stroke="#000" stroke-width="1.1"/>
<line x1="542.0" y1="519.5" x2="542.0" y2="524.0" stroke="#000" stroke-width="1.1"/>
<line x1="558.0" y1="519.5" x2="558.0" y2="524.0" stroke="#000" stroke-width="1.1"/>
<line x1="579.7" y1="519.5" x2="579.7" y2="524.0" stroke="#000" stroke-width="1.1"/>
<line x1="602.4" y1="519.5" x2="602.4" y2="524.0" stroke="#000" stroke-width="1.1"/>
<line x1="618.9" y1="519.5" x2="618.9" y2="524.0" stroke="#000" stroke-width="1.1"/>
<line x1="635.4" y1="519.5" x2="635.4" y2="524.0" stroke="#000" stroke-width="1.1"/>
<line x1="657.0" y1="519.5" x2="657.0" y2="524.0" stroke="#000" stroke-width="1.1"/>
<text x="283.8" y="498.4" font-family="Liberation Sans, sans-serif" font-size="12.2" fill="#000" text-anchor="middle">3</text>
<text x="283.8" y="515.9" font-family="Liberation Sans, sans-serif" font-size="12.2" fill="#000" text-anchor="middle">4</text>
<line x1="279.9" y1="502.5" x2="287.7" y2="502.5" stroke="#1a1a1a" stroke-width="1"/>
<text x="274.6" y="506.3" font-family="Liberation Sans, sans-serif" font-size="10.5" fill="#000" text-anchor="middle">−</text>
<text x="300.9" y="498.4" font-family="Liberation Sans, sans-serif" font-size="12.2" fill="#000" text-anchor="middle">2</text>
<text x="300.9" y="515.9" font-family="Liberation Sans, sans-serif" font-size="12.2" fill="#000" text-anchor="middle">3</text>
<line x1="297.0" y1="502.5" x2="304.8" y2="502.5" stroke="#1a1a1a" stroke-width="1"/>
<text x="291.7" y="506.3" font-family="Liberation Sans, sans-serif" font-size="10.5" fill="#000" text-anchor="middle">−</text>
<text x="319.6" y="498.4" font-family="Liberation Sans, sans-serif" font-size="12.2" fill="#000" text-anchor="middle">3</text>
<text x="319.6" y="515.9" font-family="Liberation Sans, sans-serif" font-size="12.2" fill="#000" text-anchor="middle">5</text>
<line x1="315.7" y1="502.5" x2="323.5" y2="502.5" stroke="#1a1a1a" stroke-width="1"/>
<text x="310.4" y="506.3" font-family="Liberation Sans, sans-serif" font-size="10.5" fill="#000" text-anchor="middle">−</text>
<text x="339.4" y="498.4" font-family="Liberation Sans, sans-serif" font-size="12.2" fill="#000" text-anchor="middle">1</text>
<text x="339.4" y="515.9" font-family="Liberation Sans, sans-serif" font-size="12.2" fill="#000" text-anchor="middle">2</text>
<line x1="335.5" y1="502.5" x2="343.3" y2="502.5" stroke="#1a1a1a" stroke-width="1"/>
<text x="330.2" y="506.3" font-family="Liberation Sans, sans-serif" font-size="10.5" fill="#000" text-anchor="middle">−</text>
<text x="360.5" y="498.4" font-family="Liberation Sans, sans-serif" font-size="12.2" fill="#000" text-anchor="middle">2</text>
<text x="360.5" y="515.9" font-family="Liberation Sans, sans-serif" font-size="12.2" fill="#000" text-anchor="middle">5</text>
<line x1="356.6" y1="502.5" x2="364.4" y2="502.5" stroke="#1a1a1a" stroke-width="1"/>
<text x="351.3" y="506.3" font-family="Liberation Sans, sans-serif" font-size="10.5" fill="#000" text-anchor="middle">−</text>
<text x="379.9" y="498.4" font-family="Liberation Sans, sans-serif" font-size="12.2" fill="#000" text-anchor="middle">1</text>
<text x="379.9" y="515.9" font-family="Liberation Sans, sans-serif" font-size="12.2" fill="#000" text-anchor="middle">3</text>
<line x1="376.0" y1="502.5" x2="383.8" y2="502.5" stroke="#1a1a1a" stroke-width="1"/>
<text x="370.7" y="506.3" font-family="Liberation Sans, sans-serif" font-size="10.5" fill="#000" text-anchor="middle">−</text>
<text x="400.2" y="498.4" font-family="Liberation Sans, sans-serif" font-size="12.2" fill="#000" text-anchor="middle">1</text>
<text x="400.2" y="515.9" font-family="Liberation Sans, sans-serif" font-size="12.2" fill="#000" text-anchor="middle">4</text>
<line x1="396.3" y1="502.5" x2="404.1" y2="502.5" stroke="#1a1a1a" stroke-width="1"/>
<text x="391.0" y="506.3" font-family="Liberation Sans, sans-serif" font-size="10.5" fill="#000" text-anchor="middle">−</text>
<text x="509.1" y="498.4" font-family="Liberation Sans, sans-serif" font-size="12.2" fill="#000" text-anchor="middle">1</text>
<text x="509.1" y="515.9" font-family="Liberation Sans, sans-serif" font-size="12.2" fill="#000" text-anchor="middle">7</text>
<line x1="505.2" y1="502.5" x2="513.0" y2="502.5" stroke="#1a1a1a" stroke-width="1"/>
<text x="524.7" y="498.4" font-family="Liberation Sans, sans-serif" font-size="12.2" fill="#000" text-anchor="middle">1</text>
<text x="524.7" y="515.9" font-family="Liberation Sans, sans-serif" font-size="12.2" fill="#000" text-anchor="middle">4</text>
<line x1="520.8" y1="502.5" x2="528.6" y2="502.5" stroke="#1a1a1a" stroke-width="1"/>
<text x="541.2" y="498.4" font-family="Liberation Sans, sans-serif" font-size="12.2" fill="#000" text-anchor="middle">1</text>
<text x="541.2" y="515.9" font-family="Liberation Sans, sans-serif" font-size="12.2" fill="#000" text-anchor="middle">3</text>
<line x1="537.3" y1="502.5" x2="545.1" y2="502.5" stroke="#1a1a1a" stroke-width="1"/>
<text x="557.7" y="498.4" font-family="Liberation Sans, sans-serif" font-size="12.2" fill="#000" text-anchor="middle">2</text>
<text x="557.7" y="515.9" font-family="Liberation Sans, sans-serif" font-size="12.2" fill="#000" text-anchor="middle">5</text>
<line x1="553.8" y1="502.5" x2="561.6" y2="502.5" stroke="#1a1a1a" stroke-width="1"/>
<text x="580.2" y="498.4" font-family="Liberation Sans, sans-serif" font-size="12.2" fill="#000" text-anchor="middle">1</text>
<text x="580.2" y="515.9" font-family="Liberation Sans, sans-serif" font-size="12.2" fill="#000" text-anchor="middle">2</text>
<line x1="576.3" y1="502.5" x2="584.1" y2="502.5" stroke="#1a1a1a" stroke-width="1"/>
<text x="601.9" y="498.4" font-family="Liberation Sans, sans-serif" font-size="12.2" fill="#000" text-anchor="middle">3</text>
<text x="601.9" y="515.9" font-family="Liberation Sans, sans-serif" font-size="12.2" fill="#000" text-anchor="middle">5</text>
<line x1="598.0" y1="502.5" x2="605.8" y2="502.5" stroke="#1a1a1a" stroke-width="1"/>
<text x="618.7" y="498.4" font-family="Liberation Sans, sans-serif" font-size="12.2" fill="#000" text-anchor="middle">2</text>
<text x="618.7" y="515.9" font-family="Liberation Sans, sans-serif" font-size="12.2" fill="#000" text-anchor="middle">3</text>
<line x1="614.8" y1="502.5" x2="622.6" y2="502.5" stroke="#1a1a1a" stroke-width="1"/>
<text x="635.2" y="498.4" font-family="Liberation Sans, sans-serif" font-size="12.2" fill="#000" text-anchor="middle">3</text>
<text x="635.2" y="515.9" font-family="Liberation Sans, sans-serif" font-size="12.2" fill="#000" text-anchor="middle">4</text>
<line x1="631.3" y1="502.5" x2="639.1" y2="502.5" stroke="#1a1a1a" stroke-width="1"/>
<text x="657.1" y="498.4" font-family="Liberation Sans, sans-serif" font-size="12.2" fill="#000" text-anchor="middle">6</text>
<text x="657.1" y="515.9" font-family="Liberation Sans, sans-serif" font-size="12.2" fill="#000" text-anchor="middle">7</text>
<line x1="653.2" y1="502.5" x2="661.0" y2="502.5" stroke="#1a1a1a" stroke-width="1"/>
<text x="240.8" y="709.6" font-family="Liberation Sans, sans-serif" font-size="15.5" fill="#000" text-anchor="middle">-4</text>
<text x="295.2" y="709.6" font-family="Liberation Sans, sans-serif" font-size="15.5" fill="#000" text-anchor="middle">-3</text>
<text x="350.6" y="709.6" font-family="Liberation Sans, sans-serif" font-size="15.5" fill="#000" text-anchor="middle">-2</text>
<text x="405.7" y="709.6" font-family="Liberation Sans, sans-serif" font-size="15.5" fill="#000" text-anchor="middle">-1</text>
<text x="460.9" y="709.6" font-family="Liberation Sans, sans-serif" font-size="15.5" fill="#000" text-anchor="middle">0</text>
<text x="516.8" y="709.6" font-family="Liberation Sans, sans-serif" font-size="15.5" fill="#000" text-anchor="middle">1</text>
<text x="574.4" y="709.6" font-family="Liberation Sans, sans-serif" font-size="15.5" fill="#000" text-anchor="middle">2</text>
<text x="629.0" y="709.6" font-family="Liberation Sans, sans-serif" font-size="15.5" fill="#000" text-anchor="middle">3</text>
<text x="680.4" y="709.6" font-family="Liberation Sans, sans-serif" font-size="15.5" fill="#000" text-anchor="middle">4</text>
<text x="227.3" y="540.2" font-family="Liberation Sans, sans-serif" font-size="15.5" fill="#000" text-anchor="middle">2</text>
<text x="227.3" y="616.8" font-family="Liberation Sans, sans-serif" font-size="15.5" fill="#000" text-anchor="middle">1</text>
<text x="231.6" y="688.8" font-family="Liberation Sans, sans-serif" font-size="15.5" fill="#000" text-anchor="middle">0</text>
<text x="196.0" y="526.5" font-family="Liberation Sans, sans-serif" font-size="16.0" fill="#000" text-anchor="start" font-weight="bold">d</text>
<text x="207.0" y="610.0" font-family="Liberation Sans, sans-serif" font-size="15.5" fill="#000" text-anchor="middle" transform="rotate(-90.0 207.0 610.0)"><tspan font-style="italic">D</tspan> (cm<tspan font-size="10" dy="-5">2</tspan><tspan dy="5">/s)</tspan></text>
<text x="463.0" y="738.5" font-family="Liberation Sans, sans-serif" font-size="15.5" fill="#000" text-anchor="middle"><tspan font-style="italic">V</tspan><tspan font-size="11" dy="3">g</tspan><tspan dy="-3"> (V)</tspan></text>
<text x="196.3" y="13.0" font-family="Liberation Sans, sans-serif" font-size="16.0" fill="#000" text-anchor="start" font-weight="bold">b</text>
<text x="358.6" y="25.3" font-family="Liberation Sans, sans-serif" font-size="15.8" fill="#000" text-anchor="middle">Correlated insulating state</text>
<text x="595.0" y="25.3" font-family="Liberation Sans, sans-serif" font-size="15.8" fill="#000" text-anchor="middle">Metallic state</text>
<text x="209.6" y="52.3" font-family="Liberation Sans, sans-serif" font-size="15.5" fill="#000" text-anchor="middle">Moiré</text>
<text x="210.0" y="83.5" font-family="Liberation Sans, sans-serif" font-size="15.5" fill="#000" text-anchor="middle">Spacer</text>
<text x="209.6" y="115.5" font-family="Liberation Sans, sans-serif" font-size="15.5" fill="#000" text-anchor="middle">WSe<tspan font-size="10.5" dy="3.5">2</tspan></text>
<text x="210.0" y="162.5" font-family="Liberation Sans, sans-serif" font-size="15.5" fill="#000" text-anchor="middle">hBN</text>
<text x="195.5" y="196.8" font-family="Liberation Sans, sans-serif" font-size="16.0" fill="#000" text-anchor="start" font-weight="bold">c</text>
<text x="207.3" y="298.6" font-family="Liberation Sans, sans-serif" font-size="15.5" fill="#000" text-anchor="middle" transform="rotate(-90.0 207.3 298.6)">Delay time (ps)</text>
<text x="229.4" y="235.8" font-family="Liberation Sans, sans-serif" font-size="15.5" fill="#000" text-anchor="middle">0</text>
<text x="234.5" y="304.4" font-family="Liberation Sans, sans-serif" font-size="15.5" fill="#000" text-anchor="middle" transform="rotate(-8.0 234.5 304.4)">2.5</text>
<text x="244.5" y="383.4" font-family="Liberation Sans, sans-serif" font-size="15.5" fill="#000" text-anchor="middle">5</text>
<text x="293.8" y="199" font-family="Liberation Serif, serif" font-style="italic" font-size="18.5" fill="#000" transform="translate(35.1 0) skewX(-10)">υ</text>
<text x="306.9" y="200.6" font-family="Liberation Sans, sans-serif" font-size="20.0" fill="#000" text-anchor="start">=</text>
<text x="319.2" y="199.3" font-family="Liberation Sans, sans-serif" font-size="16.0" fill="#000" text-anchor="start">0</text>
<text x="262.0" y="398.4" font-family="Liberation Sans, sans-serif" font-size="15.5" fill="#000" text-anchor="middle" transform="rotate(42 262.0 393.0)">1</text>
<text x="278.0" y="412.4" font-family="Liberation Sans, sans-serif" font-size="15.5" fill="#000" text-anchor="middle" transform="rotate(42 278.0 407.0)">0</text>
<text x="295.6" y="427.4" font-family="Liberation Sans, sans-serif" font-size="15.5" fill="#000" text-anchor="middle" transform="rotate(42 295.6 422.0)">-1</text>
<text x="340.0" y="428.4" font-family="Liberation Sans, sans-serif" font-size="15.5" fill="#000" text-anchor="middle" transform="rotate(-50 340.0 423.0)">-1</text>
<text x="361.0" y="405.4" font-family="Liberation Sans, sans-serif" font-size="15.5" fill="#000" text-anchor="middle" transform="rotate(-50 361.0 400.0)">0</text>
<text x="373.0" y="387.4" font-family="Liberation Sans, sans-serif" font-size="15.5" fill="#000" text-anchor="middle" transform="rotate(-50 373.0 382.0)">1</text>
<text x="268.0" y="425.4" font-family="Liberation Sans, sans-serif" font-size="15.5" fill="#000" text-anchor="middle" transform="rotate(42 268.0 420.0)">y (µm)</text>
<text x="366.4" y="413.4" font-family="Liberation Sans, sans-serif" font-size="15.5" fill="#000" text-anchor="middle" transform="rotate(-50 366.4 408.0)">x (µm)</text>
<text x="285.8" y="454.4" font-family="Liberation Sans, sans-serif" font-size="15.5" fill="#000" text-anchor="middle">0</text>
<text x="352.6" y="454.4" font-family="Liberation Sans, sans-serif" font-size="15.5" fill="#000" text-anchor="middle">1</text>
<text x="321.8" y="470.6" font-family="Liberation Sans, sans-serif" font-size="15.5" fill="#000" text-anchor="middle"><tspan font-size="14" dy="-1">△</tspan><tspan dy="1" dx="0.8">R</tspan></text>
<text x="444.7" y="199" font-family="Liberation Serif, serif" font-style="italic" font-size="18.5" fill="#000" transform="translate(35.1 0) skewX(-10)">υ</text>
<text x="457.8" y="200.6" font-family="Liberation Sans, sans-serif" font-size="20.0" fill="#000" text-anchor="start">=</text>
<text x="470.1" y="199.3" font-family="Liberation Sans, sans-serif" font-size="16.0" fill="#000" text-anchor="start">1/2</text>
<text x="412.4" y="398.4" font-family="Liberation Sans, sans-serif" font-size="15.5" fill="#000" text-anchor="middle" transform="rotate(42 412.4 393.0)">1</text>
<text x="428.4" y="412.4" font-family="Liberation Sans, sans-serif" font-size="15.5" fill="#000" text-anchor="middle" transform="rotate(42 428.4 407.0)">0</text>
<text x="446.0" y="427.4" font-family="Liberation Sans, sans-serif" font-size="15.5" fill="#000" text-anchor="middle" transform="rotate(42 446.0 422.0)">-1</text>
<text x="490.4" y="428.4" font-family="Liberation Sans, sans-serif" font-size="15.5" fill="#000" text-anchor="middle" transform="rotate(-50 490.4 423.0)">-1</text>
<text x="511.4" y="405.4" font-family="Liberation Sans, sans-serif" font-size="15.5" fill="#000" text-anchor="middle" transform="rotate(-50 511.4 400.0)">0</text>
<text x="523.4" y="387.4" font-family="Liberation Sans, sans-serif" font-size="15.5" fill="#000" text-anchor="middle" transform="rotate(-50 523.4 382.0)">1</text>
<text x="418.4" y="425.4" font-family="Liberation Sans, sans-serif" font-size="15.5" fill="#000" text-anchor="middle" transform="rotate(42 418.4 420.0)">y (µm)</text>
<text x="516.8" y="413.4" font-family="Liberation Sans, sans-serif" font-size="15.5" fill="#000" text-anchor="middle" transform="rotate(-50 516.8 408.0)">x (µm)</text>
<text x="436.2" y="454.4" font-family="Liberation Sans, sans-serif" font-size="15.5" fill="#000" text-anchor="middle">0</text>
<text x="503.0" y="454.4" font-family="Liberation Sans, sans-serif" font-size="15.5" fill="#000" text-anchor="middle">1</text>
<text x="472.2" y="470.6" font-family="Liberation Sans, sans-serif" font-size="15.5" fill="#000" text-anchor="middle"><tspan font-size="14" dy="-1">△</tspan><tspan dy="1" dx="0.8">R</tspan></text>
<text x="594.5" y="199" font-family="Liberation Serif, serif" font-style="italic" font-size="18.5" fill="#000" transform="translate(35.1 0) skewX(-10)">υ</text>
<text x="607.6" y="200.6" font-family="Liberation Sans, sans-serif" font-size="20.0" fill="#000" text-anchor="start">=</text>
<text x="619.9" y="199.3" font-family="Liberation Sans, sans-serif" font-size="16.0" fill="#000" text-anchor="start">2/3</text>
<text x="562.6" y="398.4" font-family="Liberation Sans, sans-serif" font-size="15.5" fill="#000" text-anchor="middle" transform="rotate(42 562.6 393.0)">1</text>
<text x="578.6" y="412.4" font-family="Liberation Sans, sans-serif" font-size="15.5" fill="#000" text-anchor="middle" transform="rotate(42 578.6 407.0)">0</text>
<text x="596.2" y="427.4" font-family="Liberation Sans, sans-serif" font-size="15.5" fill="#000" text-anchor="middle" transform="rotate(42 596.2 422.0)">-1</text>
<text x="640.6" y="428.4" font-family="Liberation Sans, sans-serif" font-size="15.5" fill="#000" text-anchor="middle" transform="rotate(-50 640.6 423.0)">-1</text>
<text x="661.6" y="405.4" font-family="Liberation Sans, sans-serif" font-size="15.5" fill="#000" text-anchor="middle" transform="rotate(-50 661.6 400.0)">0</text>
<text x="673.6" y="387.4" font-family="Liberation Sans, sans-serif" font-size="15.5" fill="#000" text-anchor="middle" transform="rotate(-50 673.6 382.0)">1</text>
<text x="568.6" y="425.4" font-family="Liberation Sans, sans-serif" font-size="15.5" fill="#000" text-anchor="middle" transform="rotate(42 568.6 420.0)">y (µm)</text>
<text x="667.0" y="413.4" font-family="Liberation Sans, sans-serif" font-size="15.5" fill="#000" text-anchor="middle" transform="rotate(-50 667.0 408.0)">x (µm)</text>
<text x="586.4" y="454.4" font-family="Liberation Sans, sans-serif" font-size="15.5" fill="#000" text-anchor="middle">0</text>
<text x="653.2" y="454.4" font-family="Liberation Sans, sans-serif" font-size="15.5" fill="#000" text-anchor="middle">1</text>
<text x="622.4" y="470.6" font-family="Liberation Sans, sans-serif" font-size="15.5" fill="#000" text-anchor="middle"><tspan font-size="14" dy="-1">△</tspan><tspan dy="1" dx="0.8">R</tspan></text>
</svg>
</body></html>
